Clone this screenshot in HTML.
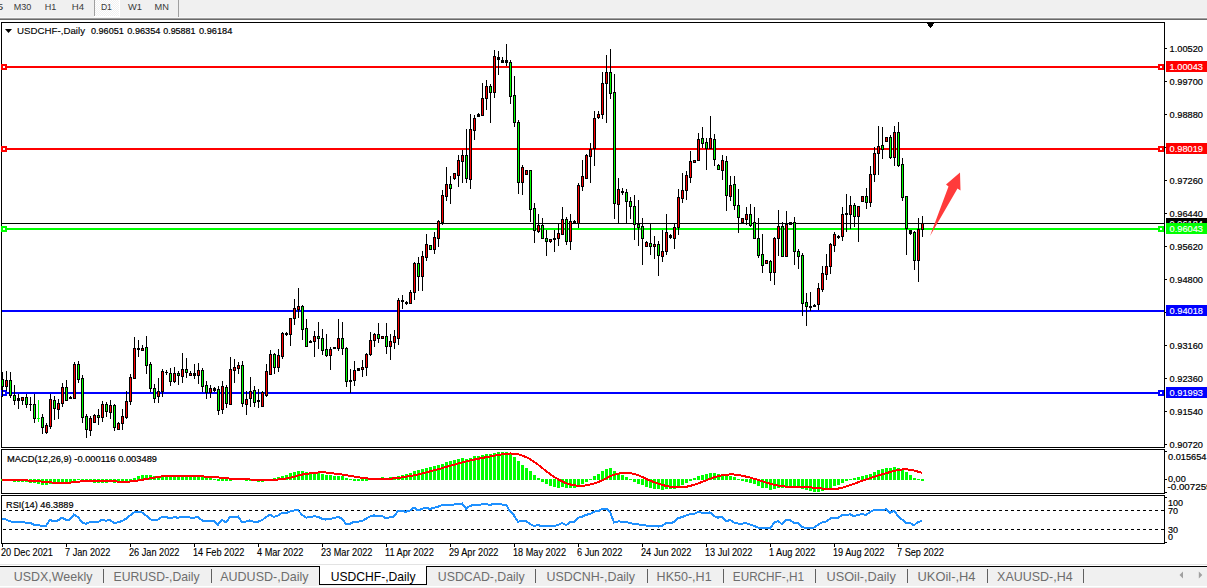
<!DOCTYPE html>
<html><head><meta charset="utf-8"><title>USDCHF-,Daily</title>
<style>
html,body{margin:0;padding:0;background:#fff;width:1207px;height:588px;overflow:hidden}
svg{display:block;font-family:"Liberation Sans",sans-serif}
text{shape-rendering:geometricPrecision}
</style></head><body>
<svg width="1207" height="588" viewBox="0 0 1207 588" shape-rendering="crispEdges">
<rect x="0" y="0" width="1207" height="17" fill="#f0f0f0"/>
<rect x="0" y="17" width="1207" height="1" fill="#f7f7f7"/>
<rect x="0" y="18" width="1207" height="1" fill="#a0a0a0"/>
<rect x="0" y="19" width="1207" height="1" fill="#696969"/>
<defs><pattern id="dith" width="2" height="2" patternUnits="userSpaceOnUse"><rect width="2" height="2" fill="#f0f0f0"/><rect width="1" height="1" fill="#fff"/><rect x="1" y="1" width="1" height="1" fill="#fff"/></pattern></defs>
<rect x="95" y="0" width="24" height="16" fill="url(#dith)"/>
<rect x="94" y="0" width="1" height="16" fill="#a0a0a0"/>
<rect x="94" y="16" width="26" height="1" fill="#fff"/>
<rect x="119" y="0" width="1" height="16" fill="#fff"/>
<rect x="178" y="0" width="1" height="17" fill="#a0a0a0"/>
<text x="-3.5" y="10" font-size="9.7" fill="#3a3a3a" textLength="6.8" lengthAdjust="spacingAndGlyphs">5</text>
<text x="13.7" y="10" font-size="9.7" fill="#3a3a3a" textLength="17.6" lengthAdjust="spacingAndGlyphs">M30</text>
<text x="44.7" y="10" font-size="9.7" fill="#3a3a3a" textLength="11.6" lengthAdjust="spacingAndGlyphs">H1</text>
<text x="71.7" y="10" font-size="9.7" fill="#3a3a3a" textLength="12.3" lengthAdjust="spacingAndGlyphs">H4</text>
<text x="100.9" y="10" font-size="9.7" fill="#3a3a3a" textLength="11.0" lengthAdjust="spacingAndGlyphs">D1</text>
<text x="128" y="10" font-size="9.7" fill="#3a3a3a" textLength="14" lengthAdjust="spacingAndGlyphs">W1</text>
<text x="154.6" y="10" font-size="9.7" fill="#3a3a3a" textLength="14.4" lengthAdjust="spacingAndGlyphs">MN</text>
<rect x="1" y="22" width="1164" height="1" fill="#000"/>
<rect x="1" y="447" width="1164" height="1" fill="#000"/>
<rect x="1" y="22" width="1" height="426" fill="#000"/>
<rect x="1164" y="22" width="1" height="426" fill="#000"/>
<rect x="1" y="449" width="1164" height="1" fill="#000"/>
<rect x="1" y="493" width="1164" height="1" fill="#000"/>
<rect x="1" y="449" width="1" height="45" fill="#000"/>
<rect x="1164" y="449" width="1" height="45" fill="#000"/>
<rect x="1" y="495" width="1164" height="1" fill="#000"/>
<rect x="1" y="543" width="1164" height="1" fill="#000"/>
<rect x="1" y="495" width="1" height="49" fill="#000"/>
<rect x="1164" y="495" width="1" height="49" fill="#000"/>
<rect x="1165" y="48" width="2" height="1" fill="#000"/>
<text x="1169.6" y="51.6" font-size="9.5" fill="#000" stroke="#000" stroke-width="0.2" textLength="33.4" lengthAdjust="spacingAndGlyphs">1.00520</text>
<rect x="1165" y="81" width="2" height="1" fill="#000"/>
<text x="1169.6" y="84.6" font-size="9.5" fill="#000" stroke="#000" stroke-width="0.2" textLength="33.4" lengthAdjust="spacingAndGlyphs">0.99700</text>
<rect x="1165" y="114" width="2" height="1" fill="#000"/>
<text x="1169.6" y="117.6" font-size="9.5" fill="#000" stroke="#000" stroke-width="0.2" textLength="33.4" lengthAdjust="spacingAndGlyphs">0.98880</text>
<rect x="1165" y="147" width="2" height="1" fill="#000"/>
<text x="1169.6" y="150.6" font-size="9.5" fill="#000" stroke="#000" stroke-width="0.2" textLength="33.4" lengthAdjust="spacingAndGlyphs">0.98060</text>
<rect x="1165" y="180" width="2" height="1" fill="#000"/>
<text x="1169.6" y="183.6" font-size="9.5" fill="#000" stroke="#000" stroke-width="0.2" textLength="33.4" lengthAdjust="spacingAndGlyphs">0.97260</text>
<rect x="1165" y="213" width="2" height="1" fill="#000"/>
<text x="1169.6" y="216.6" font-size="9.5" fill="#000" stroke="#000" stroke-width="0.2" textLength="33.4" lengthAdjust="spacingAndGlyphs">0.96440</text>
<rect x="1165" y="246" width="2" height="1" fill="#000"/>
<text x="1169.6" y="249.6" font-size="9.5" fill="#000" stroke="#000" stroke-width="0.2" textLength="33.4" lengthAdjust="spacingAndGlyphs">0.95620</text>
<rect x="1165" y="279" width="2" height="1" fill="#000"/>
<text x="1169.6" y="282.6" font-size="9.5" fill="#000" stroke="#000" stroke-width="0.2" textLength="33.4" lengthAdjust="spacingAndGlyphs">0.94800</text>
<rect x="1165" y="312" width="2" height="1" fill="#000"/>
<text x="1169.6" y="315.6" font-size="9.5" fill="#000" stroke="#000" stroke-width="0.2" textLength="33.4" lengthAdjust="spacingAndGlyphs">0.93980</text>
<rect x="1165" y="345" width="2" height="1" fill="#000"/>
<text x="1169.6" y="348.6" font-size="9.5" fill="#000" stroke="#000" stroke-width="0.2" textLength="33.4" lengthAdjust="spacingAndGlyphs">0.93160</text>
<rect x="1165" y="378" width="2" height="1" fill="#000"/>
<text x="1169.6" y="381.6" font-size="9.5" fill="#000" stroke="#000" stroke-width="0.2" textLength="33.4" lengthAdjust="spacingAndGlyphs">0.92360</text>
<rect x="1165" y="411" width="2" height="1" fill="#000"/>
<text x="1169.6" y="414.6" font-size="9.5" fill="#000" stroke="#000" stroke-width="0.2" textLength="33.4" lengthAdjust="spacingAndGlyphs">0.91540</text>
<rect x="1165" y="444" width="2" height="1" fill="#000"/>
<text x="1169.6" y="447.6" font-size="9.5" fill="#000" stroke="#000" stroke-width="0.2" textLength="33.4" lengthAdjust="spacingAndGlyphs">0.90720</text>
<rect x="2" y="66" width="1162" height="2" fill="#ff0000"/>
<rect x="1" y="64" width="6" height="6" fill="#ff0000"/>
<rect x="3" y="66" width="2" height="2" fill="#fff"/>
<rect x="1158" y="64" width="6" height="6" fill="#ff0000"/>
<rect x="1160" y="66" width="2" height="2" fill="#fff"/>
<rect x="2" y="148" width="1162" height="2" fill="#ff0000"/>
<rect x="1" y="146" width="6" height="6" fill="#ff0000"/>
<rect x="3" y="148" width="2" height="2" fill="#fff"/>
<rect x="1158" y="146" width="6" height="6" fill="#ff0000"/>
<rect x="1160" y="148" width="2" height="2" fill="#fff"/>
<rect x="2" y="228" width="1162" height="2" fill="#00ff00"/>
<rect x="1" y="226" width="6" height="6" fill="#00ff00"/>
<rect x="3" y="228" width="2" height="2" fill="#fff"/>
<rect x="1158" y="226" width="6" height="6" fill="#00ff00"/>
<rect x="1160" y="228" width="2" height="2" fill="#fff"/>
<rect x="2" y="310" width="1162" height="2" fill="#0000ff"/>
<rect x="2" y="392" width="1162" height="2" fill="#0000ff"/>
<rect x="1" y="390" width="6" height="6" fill="#0000ff"/>
<rect x="3" y="392" width="2" height="2" fill="#fff"/>
<rect x="1158" y="390" width="6" height="6" fill="#0000ff"/>
<rect x="1160" y="392" width="2" height="2" fill="#fff"/>
<rect x="2" y="223" width="1162" height="1" fill="#000"/>
<rect x="2" y="372" width="1" height="25" fill="#000"/>
<rect x="1" y="379" width="3" height="8" fill="#000"/>
<rect x="2" y="380" width="1" height="6" fill="#00ff00"/>
<rect x="6" y="371" width="1" height="20" fill="#000"/>
<rect x="5" y="380" width="3" height="7" fill="#000"/>
<rect x="6" y="381" width="1" height="5" fill="#ff0000"/>
<rect x="10" y="372" width="1" height="26" fill="#000"/>
<rect x="9" y="380" width="3" height="16" fill="#000"/>
<rect x="10" y="381" width="1" height="14" fill="#00ff00"/>
<rect x="14" y="385" width="1" height="20" fill="#000"/>
<rect x="13" y="395" width="3" height="6" fill="#000"/>
<rect x="14" y="396" width="1" height="4" fill="#00ff00"/>
<rect x="18" y="394" width="1" height="15" fill="#000"/>
<rect x="17" y="398" width="3" height="3" fill="#000"/>
<rect x="22" y="397" width="1" height="8" fill="#000"/>
<rect x="21" y="397" width="3" height="4" fill="#000"/>
<rect x="22" y="398" width="1" height="2" fill="#ff0000"/>
<rect x="26" y="394" width="1" height="14" fill="#000"/>
<rect x="25" y="397" width="3" height="8" fill="#000"/>
<rect x="26" y="398" width="1" height="6" fill="#00ff00"/>
<rect x="30" y="397" width="1" height="14" fill="#000"/>
<rect x="29" y="404" width="3" height="1" fill="#000"/>
<rect x="34" y="394" width="1" height="29" fill="#000"/>
<rect x="33" y="404" width="3" height="15" fill="#000"/>
<rect x="34" y="405" width="1" height="13" fill="#00ff00"/>
<rect x="38" y="400" width="1" height="22" fill="#00ff00"/>
<rect x="37" y="418" width="3" height="1" fill="#00ff00"/>
<rect x="42" y="414" width="1" height="20" fill="#000"/>
<rect x="41" y="417" width="3" height="11" fill="#000"/>
<rect x="42" y="418" width="1" height="9" fill="#00ff00"/>
<rect x="46" y="423" width="1" height="11" fill="#000"/>
<rect x="45" y="425" width="3" height="8" fill="#000"/>
<rect x="46" y="426" width="1" height="6" fill="#ff0000"/>
<rect x="50" y="394" width="1" height="35" fill="#000"/>
<rect x="49" y="399" width="3" height="28" fill="#000"/>
<rect x="50" y="400" width="1" height="26" fill="#ff0000"/>
<rect x="54" y="396" width="1" height="24" fill="#000"/>
<rect x="53" y="400" width="3" height="9" fill="#000"/>
<rect x="54" y="401" width="1" height="7" fill="#00ff00"/>
<rect x="58" y="399" width="1" height="20" fill="#000"/>
<rect x="57" y="403" width="3" height="7" fill="#000"/>
<rect x="58" y="404" width="1" height="5" fill="#ff0000"/>
<rect x="62" y="383" width="1" height="24" fill="#000"/>
<rect x="61" y="387" width="3" height="17" fill="#000"/>
<rect x="62" y="388" width="1" height="15" fill="#ff0000"/>
<rect x="66" y="380" width="1" height="21" fill="#000"/>
<rect x="65" y="387" width="3" height="14" fill="#000"/>
<rect x="66" y="388" width="1" height="12" fill="#00ff00"/>
<rect x="70" y="396" width="1" height="3" fill="#000"/>
<rect x="69" y="397" width="3" height="2" fill="#000"/>
<rect x="74" y="362" width="1" height="37" fill="#000"/>
<rect x="73" y="364" width="3" height="35" fill="#000"/>
<rect x="74" y="365" width="1" height="33" fill="#ff0000"/>
<rect x="78" y="361" width="1" height="22" fill="#000"/>
<rect x="77" y="364" width="3" height="16" fill="#000"/>
<rect x="78" y="365" width="1" height="14" fill="#00ff00"/>
<rect x="82" y="375" width="1" height="48" fill="#000"/>
<rect x="81" y="378" width="3" height="40" fill="#000"/>
<rect x="82" y="379" width="1" height="38" fill="#00ff00"/>
<rect x="86" y="414" width="1" height="24" fill="#000"/>
<rect x="85" y="416" width="3" height="14" fill="#000"/>
<rect x="86" y="417" width="1" height="12" fill="#00ff00"/>
<rect x="90" y="416" width="1" height="20" fill="#000"/>
<rect x="89" y="418" width="3" height="13" fill="#000"/>
<rect x="90" y="419" width="1" height="11" fill="#ff0000"/>
<rect x="94" y="414" width="1" height="9" fill="#000"/>
<rect x="93" y="415" width="3" height="8" fill="#000"/>
<rect x="94" y="416" width="1" height="6" fill="#ff0000"/>
<rect x="98" y="409" width="1" height="16" fill="#000"/>
<rect x="97" y="415" width="3" height="3" fill="#000"/>
<rect x="98" y="416" width="1" height="1" fill="#00ff00"/>
<rect x="102" y="401" width="1" height="21" fill="#000"/>
<rect x="101" y="404" width="3" height="14" fill="#000"/>
<rect x="102" y="405" width="1" height="12" fill="#ff0000"/>
<rect x="106" y="402" width="1" height="15" fill="#000"/>
<rect x="105" y="404" width="3" height="8" fill="#000"/>
<rect x="106" y="405" width="1" height="6" fill="#00ff00"/>
<rect x="110" y="400" width="1" height="19" fill="#000"/>
<rect x="109" y="405" width="3" height="8" fill="#000"/>
<rect x="110" y="406" width="1" height="6" fill="#ff0000"/>
<rect x="114" y="404" width="1" height="27" fill="#000"/>
<rect x="113" y="405" width="3" height="23" fill="#000"/>
<rect x="114" y="406" width="1" height="21" fill="#00ff00"/>
<rect x="118" y="422" width="1" height="8" fill="#000"/>
<rect x="117" y="423" width="3" height="7" fill="#000"/>
<rect x="118" y="424" width="1" height="5" fill="#ff0000"/>
<rect x="122" y="409" width="1" height="21" fill="#000"/>
<rect x="121" y="416" width="3" height="8" fill="#000"/>
<rect x="122" y="417" width="1" height="6" fill="#ff0000"/>
<rect x="126" y="391" width="1" height="28" fill="#000"/>
<rect x="125" y="401" width="3" height="17" fill="#000"/>
<rect x="126" y="402" width="1" height="15" fill="#ff0000"/>
<rect x="130" y="374" width="1" height="31" fill="#000"/>
<rect x="129" y="377" width="3" height="25" fill="#000"/>
<rect x="130" y="378" width="1" height="23" fill="#ff0000"/>
<rect x="134" y="337" width="1" height="42" fill="#000"/>
<rect x="133" y="348" width="3" height="31" fill="#000"/>
<rect x="134" y="349" width="1" height="29" fill="#ff0000"/>
<rect x="138" y="340" width="1" height="17" fill="#000"/>
<rect x="137" y="348" width="3" height="2" fill="#000"/>
<rect x="142" y="345" width="1" height="6" fill="#000"/>
<rect x="141" y="348" width="3" height="3" fill="#000"/>
<rect x="142" y="349" width="1" height="1" fill="#ff0000"/>
<rect x="146" y="336" width="1" height="38" fill="#000"/>
<rect x="145" y="347" width="3" height="19" fill="#000"/>
<rect x="146" y="348" width="1" height="17" fill="#00ff00"/>
<rect x="150" y="362" width="1" height="30" fill="#000"/>
<rect x="149" y="364" width="3" height="25" fill="#000"/>
<rect x="150" y="365" width="1" height="23" fill="#00ff00"/>
<rect x="154" y="384" width="1" height="19" fill="#000"/>
<rect x="153" y="388" width="3" height="11" fill="#000"/>
<rect x="154" y="389" width="1" height="9" fill="#00ff00"/>
<rect x="158" y="378" width="1" height="25" fill="#000"/>
<rect x="157" y="391" width="3" height="6" fill="#000"/>
<rect x="158" y="392" width="1" height="4" fill="#ff0000"/>
<rect x="162" y="369" width="1" height="28" fill="#000"/>
<rect x="161" y="371" width="3" height="21" fill="#000"/>
<rect x="162" y="372" width="1" height="19" fill="#ff0000"/>
<rect x="166" y="370" width="1" height="5" fill="#000"/>
<rect x="165" y="372" width="3" height="1" fill="#000"/>
<rect x="170" y="368" width="1" height="18" fill="#000"/>
<rect x="169" y="373" width="3" height="9" fill="#000"/>
<rect x="170" y="374" width="1" height="7" fill="#00ff00"/>
<rect x="174" y="367" width="1" height="16" fill="#000"/>
<rect x="173" y="373" width="3" height="9" fill="#000"/>
<rect x="174" y="374" width="1" height="7" fill="#ff0000"/>
<rect x="178" y="371" width="1" height="14" fill="#000"/>
<rect x="177" y="373" width="3" height="3" fill="#000"/>
<rect x="178" y="374" width="1" height="1" fill="#00ff00"/>
<rect x="182" y="353" width="1" height="30" fill="#000"/>
<rect x="181" y="369" width="3" height="8" fill="#000"/>
<rect x="182" y="370" width="1" height="6" fill="#ff0000"/>
<rect x="186" y="358" width="1" height="20" fill="#000"/>
<rect x="185" y="369" width="3" height="4" fill="#000"/>
<rect x="186" y="370" width="1" height="2" fill="#00ff00"/>
<rect x="190" y="371" width="1" height="5" fill="#000"/>
<rect x="189" y="373" width="3" height="3" fill="#000"/>
<rect x="190" y="374" width="1" height="1" fill="#ff0000"/>
<rect x="194" y="364" width="1" height="15" fill="#000"/>
<rect x="193" y="373" width="3" height="3" fill="#000"/>
<rect x="198" y="363" width="1" height="21" fill="#000"/>
<rect x="197" y="370" width="3" height="6" fill="#000"/>
<rect x="198" y="371" width="1" height="4" fill="#ff0000"/>
<rect x="202" y="368" width="1" height="24" fill="#000"/>
<rect x="201" y="370" width="3" height="17" fill="#000"/>
<rect x="202" y="371" width="1" height="15" fill="#00ff00"/>
<rect x="206" y="381" width="1" height="18" fill="#000"/>
<rect x="205" y="385" width="3" height="8" fill="#000"/>
<rect x="206" y="386" width="1" height="6" fill="#00ff00"/>
<rect x="210" y="385" width="1" height="13" fill="#000"/>
<rect x="209" y="388" width="3" height="5" fill="#000"/>
<rect x="210" y="389" width="1" height="3" fill="#ff0000"/>
<rect x="214" y="387" width="1" height="5" fill="#000"/>
<rect x="213" y="388" width="3" height="3" fill="#000"/>
<rect x="218" y="386" width="1" height="29" fill="#000"/>
<rect x="217" y="389" width="3" height="22" fill="#000"/>
<rect x="218" y="390" width="1" height="20" fill="#00ff00"/>
<rect x="222" y="381" width="1" height="33" fill="#000"/>
<rect x="221" y="386" width="3" height="24" fill="#000"/>
<rect x="222" y="387" width="1" height="22" fill="#ff0000"/>
<rect x="226" y="385" width="1" height="23" fill="#000"/>
<rect x="225" y="387" width="3" height="17" fill="#000"/>
<rect x="226" y="388" width="1" height="15" fill="#00ff00"/>
<rect x="230" y="357" width="1" height="48" fill="#000"/>
<rect x="229" y="369" width="3" height="36" fill="#000"/>
<rect x="230" y="370" width="1" height="34" fill="#ff0000"/>
<rect x="234" y="359" width="1" height="24" fill="#000"/>
<rect x="233" y="367" width="3" height="4" fill="#000"/>
<rect x="234" y="368" width="1" height="2" fill="#ff0000"/>
<rect x="238" y="362" width="1" height="12" fill="#000"/>
<rect x="237" y="365" width="3" height="4" fill="#000"/>
<rect x="238" y="366" width="1" height="2" fill="#ff0000"/>
<rect x="242" y="361" width="1" height="46" fill="#000"/>
<rect x="241" y="365" width="3" height="39" fill="#000"/>
<rect x="242" y="366" width="1" height="37" fill="#00ff00"/>
<rect x="246" y="391" width="1" height="24" fill="#000"/>
<rect x="245" y="399" width="3" height="6" fill="#000"/>
<rect x="246" y="400" width="1" height="4" fill="#ff0000"/>
<rect x="250" y="377" width="1" height="30" fill="#000"/>
<rect x="249" y="391" width="3" height="8" fill="#000"/>
<rect x="250" y="392" width="1" height="6" fill="#ff0000"/>
<rect x="254" y="386" width="1" height="21" fill="#000"/>
<rect x="253" y="390" width="3" height="13" fill="#000"/>
<rect x="254" y="391" width="1" height="11" fill="#00ff00"/>
<rect x="258" y="389" width="1" height="19" fill="#000"/>
<rect x="257" y="400" width="3" height="2" fill="#000"/>
<rect x="262" y="391" width="1" height="16" fill="#000"/>
<rect x="261" y="392" width="3" height="15" fill="#000"/>
<rect x="262" y="393" width="1" height="13" fill="#ff0000"/>
<rect x="266" y="364" width="1" height="33" fill="#000"/>
<rect x="265" y="371" width="3" height="25" fill="#000"/>
<rect x="266" y="372" width="1" height="23" fill="#ff0000"/>
<rect x="270" y="350" width="1" height="25" fill="#000"/>
<rect x="269" y="354" width="3" height="21" fill="#000"/>
<rect x="270" y="355" width="1" height="19" fill="#ff0000"/>
<rect x="274" y="353" width="1" height="21" fill="#000"/>
<rect x="273" y="354" width="3" height="14" fill="#000"/>
<rect x="274" y="355" width="1" height="12" fill="#00ff00"/>
<rect x="278" y="349" width="1" height="23" fill="#000"/>
<rect x="277" y="355" width="3" height="13" fill="#000"/>
<rect x="278" y="356" width="1" height="11" fill="#ff0000"/>
<rect x="282" y="332" width="1" height="27" fill="#000"/>
<rect x="281" y="333" width="3" height="24" fill="#000"/>
<rect x="282" y="334" width="1" height="22" fill="#ff0000"/>
<rect x="286" y="332" width="1" height="4" fill="#000"/>
<rect x="285" y="333" width="3" height="2" fill="#000"/>
<rect x="290" y="318" width="1" height="28" fill="#000"/>
<rect x="289" y="318" width="3" height="17" fill="#000"/>
<rect x="290" y="319" width="1" height="15" fill="#ff0000"/>
<rect x="294" y="299" width="1" height="26" fill="#000"/>
<rect x="293" y="308" width="3" height="11" fill="#000"/>
<rect x="294" y="309" width="1" height="9" fill="#ff0000"/>
<rect x="298" y="288" width="1" height="30" fill="#000"/>
<rect x="297" y="306" width="3" height="4" fill="#000"/>
<rect x="298" y="307" width="1" height="2" fill="#ff0000"/>
<rect x="302" y="305" width="1" height="35" fill="#000"/>
<rect x="301" y="306" width="3" height="24" fill="#000"/>
<rect x="302" y="307" width="1" height="22" fill="#00ff00"/>
<rect x="306" y="319" width="1" height="28" fill="#000"/>
<rect x="305" y="328" width="3" height="19" fill="#000"/>
<rect x="306" y="329" width="1" height="17" fill="#00ff00"/>
<rect x="310" y="340" width="1" height="3" fill="#000"/>
<rect x="309" y="341" width="3" height="2" fill="#000"/>
<rect x="314" y="331" width="1" height="26" fill="#000"/>
<rect x="313" y="336" width="3" height="6" fill="#000"/>
<rect x="314" y="337" width="1" height="4" fill="#ff0000"/>
<rect x="318" y="322" width="1" height="27" fill="#000"/>
<rect x="317" y="336" width="3" height="3" fill="#000"/>
<rect x="318" y="337" width="1" height="1" fill="#00ff00"/>
<rect x="322" y="329" width="1" height="26" fill="#000"/>
<rect x="321" y="338" width="3" height="13" fill="#000"/>
<rect x="322" y="339" width="1" height="11" fill="#00ff00"/>
<rect x="326" y="334" width="1" height="23" fill="#000"/>
<rect x="325" y="349" width="3" height="7" fill="#000"/>
<rect x="326" y="350" width="1" height="5" fill="#00ff00"/>
<rect x="330" y="347" width="1" height="23" fill="#000"/>
<rect x="329" y="349" width="3" height="7" fill="#000"/>
<rect x="330" y="350" width="1" height="5" fill="#ff0000"/>
<rect x="334" y="347" width="1" height="2" fill="#000"/>
<rect x="333" y="347" width="3" height="2" fill="#000"/>
<rect x="338" y="319" width="1" height="32" fill="#000"/>
<rect x="337" y="338" width="3" height="11" fill="#000"/>
<rect x="338" y="339" width="1" height="9" fill="#ff0000"/>
<rect x="342" y="322" width="1" height="33" fill="#000"/>
<rect x="341" y="338" width="3" height="11" fill="#000"/>
<rect x="342" y="339" width="1" height="9" fill="#00ff00"/>
<rect x="346" y="347" width="1" height="40" fill="#000"/>
<rect x="345" y="348" width="3" height="34" fill="#000"/>
<rect x="346" y="349" width="1" height="32" fill="#00ff00"/>
<rect x="350" y="369" width="1" height="24" fill="#000"/>
<rect x="349" y="380" width="3" height="2" fill="#000"/>
<rect x="354" y="361" width="1" height="25" fill="#000"/>
<rect x="353" y="370" width="3" height="11" fill="#000"/>
<rect x="354" y="371" width="1" height="9" fill="#ff0000"/>
<rect x="358" y="368" width="1" height="3" fill="#000"/>
<rect x="357" y="368" width="3" height="3" fill="#000"/>
<rect x="362" y="360" width="1" height="17" fill="#000"/>
<rect x="361" y="367" width="3" height="3" fill="#000"/>
<rect x="362" y="368" width="1" height="1" fill="#ff0000"/>
<rect x="366" y="353" width="1" height="23" fill="#000"/>
<rect x="365" y="354" width="3" height="14" fill="#000"/>
<rect x="366" y="355" width="1" height="12" fill="#ff0000"/>
<rect x="370" y="332" width="1" height="24" fill="#000"/>
<rect x="369" y="340" width="3" height="15" fill="#000"/>
<rect x="370" y="341" width="1" height="13" fill="#ff0000"/>
<rect x="374" y="333" width="1" height="14" fill="#000"/>
<rect x="373" y="334" width="3" height="7" fill="#000"/>
<rect x="374" y="335" width="1" height="5" fill="#ff0000"/>
<rect x="378" y="323" width="1" height="20" fill="#000"/>
<rect x="377" y="334" width="3" height="5" fill="#000"/>
<rect x="378" y="335" width="1" height="3" fill="#00ff00"/>
<rect x="382" y="336" width="1" height="3" fill="#000"/>
<rect x="381" y="336" width="3" height="3" fill="#000"/>
<rect x="382" y="337" width="1" height="1" fill="#ff0000"/>
<rect x="386" y="323" width="1" height="31" fill="#000"/>
<rect x="385" y="336" width="3" height="11" fill="#000"/>
<rect x="386" y="337" width="1" height="9" fill="#00ff00"/>
<rect x="390" y="334" width="1" height="26" fill="#000"/>
<rect x="389" y="341" width="3" height="6" fill="#000"/>
<rect x="390" y="342" width="1" height="4" fill="#ff0000"/>
<rect x="394" y="330" width="1" height="19" fill="#000"/>
<rect x="393" y="336" width="3" height="7" fill="#000"/>
<rect x="394" y="337" width="1" height="5" fill="#ff0000"/>
<rect x="398" y="298" width="1" height="47" fill="#000"/>
<rect x="397" y="300" width="3" height="39" fill="#000"/>
<rect x="398" y="301" width="1" height="37" fill="#ff0000"/>
<rect x="402" y="295" width="1" height="14" fill="#000"/>
<rect x="401" y="300" width="3" height="2" fill="#000"/>
<rect x="406" y="301" width="1" height="4" fill="#000"/>
<rect x="405" y="302" width="3" height="2" fill="#000"/>
<rect x="410" y="290" width="1" height="14" fill="#000"/>
<rect x="409" y="292" width="3" height="12" fill="#000"/>
<rect x="410" y="293" width="1" height="10" fill="#ff0000"/>
<rect x="414" y="262" width="1" height="38" fill="#000"/>
<rect x="413" y="263" width="3" height="30" fill="#000"/>
<rect x="414" y="264" width="1" height="28" fill="#ff0000"/>
<rect x="418" y="257" width="1" height="34" fill="#000"/>
<rect x="417" y="263" width="3" height="14" fill="#000"/>
<rect x="418" y="264" width="1" height="12" fill="#00ff00"/>
<rect x="422" y="251" width="1" height="40" fill="#000"/>
<rect x="421" y="256" width="3" height="21" fill="#000"/>
<rect x="422" y="257" width="1" height="19" fill="#ff0000"/>
<rect x="426" y="234" width="1" height="27" fill="#000"/>
<rect x="425" y="244" width="3" height="14" fill="#000"/>
<rect x="426" y="245" width="1" height="12" fill="#ff0000"/>
<rect x="430" y="245" width="1" height="5" fill="#000"/>
<rect x="429" y="245" width="3" height="5" fill="#000"/>
<rect x="430" y="246" width="1" height="3" fill="#00ff00"/>
<rect x="434" y="232" width="1" height="22" fill="#000"/>
<rect x="433" y="237" width="3" height="13" fill="#000"/>
<rect x="434" y="238" width="1" height="11" fill="#ff0000"/>
<rect x="438" y="220" width="1" height="27" fill="#000"/>
<rect x="437" y="221" width="3" height="18" fill="#000"/>
<rect x="438" y="222" width="1" height="16" fill="#ff0000"/>
<rect x="442" y="190" width="1" height="35" fill="#000"/>
<rect x="441" y="195" width="3" height="28" fill="#000"/>
<rect x="442" y="196" width="1" height="26" fill="#ff0000"/>
<rect x="446" y="167" width="1" height="34" fill="#000"/>
<rect x="445" y="184" width="3" height="13" fill="#000"/>
<rect x="446" y="185" width="1" height="11" fill="#ff0000"/>
<rect x="450" y="176" width="1" height="28" fill="#000"/>
<rect x="449" y="184" width="3" height="5" fill="#000"/>
<rect x="450" y="185" width="1" height="3" fill="#00ff00"/>
<rect x="454" y="173" width="1" height="7" fill="#000"/>
<rect x="453" y="173" width="3" height="6" fill="#000"/>
<rect x="454" y="174" width="1" height="4" fill="#ff0000"/>
<rect x="458" y="155" width="1" height="32" fill="#000"/>
<rect x="457" y="160" width="3" height="16" fill="#000"/>
<rect x="458" y="161" width="1" height="14" fill="#ff0000"/>
<rect x="462" y="150" width="1" height="33" fill="#000"/>
<rect x="461" y="155" width="3" height="7" fill="#000"/>
<rect x="462" y="156" width="1" height="5" fill="#ff0000"/>
<rect x="466" y="129" width="1" height="54" fill="#000"/>
<rect x="465" y="155" width="3" height="24" fill="#000"/>
<rect x="466" y="156" width="1" height="22" fill="#00ff00"/>
<rect x="470" y="114" width="1" height="75" fill="#000"/>
<rect x="469" y="129" width="3" height="51" fill="#000"/>
<rect x="470" y="130" width="1" height="49" fill="#ff0000"/>
<rect x="474" y="115" width="1" height="25" fill="#000"/>
<rect x="473" y="118" width="3" height="13" fill="#000"/>
<rect x="474" y="119" width="1" height="11" fill="#ff0000"/>
<rect x="478" y="113" width="1" height="4" fill="#000"/>
<rect x="477" y="114" width="3" height="3" fill="#000"/>
<rect x="482" y="83" width="1" height="33" fill="#000"/>
<rect x="481" y="98" width="3" height="18" fill="#000"/>
<rect x="482" y="99" width="1" height="16" fill="#ff0000"/>
<rect x="486" y="80" width="1" height="30" fill="#000"/>
<rect x="485" y="86" width="3" height="13" fill="#000"/>
<rect x="486" y="87" width="1" height="11" fill="#ff0000"/>
<rect x="490" y="84" width="1" height="39" fill="#000"/>
<rect x="489" y="86" width="3" height="7" fill="#000"/>
<rect x="490" y="87" width="1" height="5" fill="#00ff00"/>
<rect x="494" y="50" width="1" height="48" fill="#000"/>
<rect x="493" y="56" width="3" height="37" fill="#000"/>
<rect x="494" y="57" width="1" height="35" fill="#ff0000"/>
<rect x="498" y="51" width="1" height="24" fill="#000"/>
<rect x="497" y="57" width="3" height="3" fill="#000"/>
<rect x="502" y="57" width="1" height="6" fill="#000"/>
<rect x="501" y="60" width="3" height="3" fill="#000"/>
<rect x="506" y="44" width="1" height="22" fill="#000"/>
<rect x="505" y="60" width="3" height="3" fill="#000"/>
<rect x="510" y="60" width="1" height="44" fill="#000"/>
<rect x="509" y="62" width="3" height="35" fill="#000"/>
<rect x="510" y="63" width="1" height="33" fill="#00ff00"/>
<rect x="514" y="76" width="1" height="51" fill="#000"/>
<rect x="513" y="95" width="3" height="28" fill="#000"/>
<rect x="514" y="96" width="1" height="26" fill="#00ff00"/>
<rect x="518" y="120" width="1" height="74" fill="#000"/>
<rect x="517" y="122" width="3" height="61" fill="#000"/>
<rect x="518" y="123" width="1" height="59" fill="#00ff00"/>
<rect x="522" y="165" width="1" height="30" fill="#000"/>
<rect x="521" y="167" width="3" height="16" fill="#000"/>
<rect x="522" y="168" width="1" height="14" fill="#ff0000"/>
<rect x="526" y="170" width="1" height="5" fill="#000"/>
<rect x="525" y="170" width="3" height="5" fill="#000"/>
<rect x="526" y="171" width="1" height="3" fill="#ff0000"/>
<rect x="530" y="170" width="1" height="52" fill="#000"/>
<rect x="529" y="170" width="3" height="40" fill="#000"/>
<rect x="530" y="171" width="1" height="38" fill="#00ff00"/>
<rect x="534" y="203" width="1" height="40" fill="#000"/>
<rect x="533" y="208" width="3" height="23" fill="#000"/>
<rect x="534" y="209" width="1" height="21" fill="#00ff00"/>
<rect x="538" y="214" width="1" height="19" fill="#000"/>
<rect x="537" y="225" width="3" height="7" fill="#000"/>
<rect x="538" y="226" width="1" height="5" fill="#ff0000"/>
<rect x="542" y="218" width="1" height="21" fill="#000"/>
<rect x="541" y="225" width="3" height="14" fill="#000"/>
<rect x="542" y="226" width="1" height="12" fill="#00ff00"/>
<rect x="546" y="230" width="1" height="26" fill="#000"/>
<rect x="545" y="238" width="3" height="4" fill="#000"/>
<rect x="546" y="239" width="1" height="2" fill="#00ff00"/>
<rect x="550" y="239" width="1" height="4" fill="#000"/>
<rect x="549" y="239" width="3" height="3" fill="#000"/>
<rect x="550" y="240" width="1" height="1" fill="#ff0000"/>
<rect x="554" y="230" width="1" height="22" fill="#000"/>
<rect x="553" y="238" width="3" height="2" fill="#000"/>
<rect x="558" y="224" width="1" height="22" fill="#000"/>
<rect x="557" y="233" width="3" height="6" fill="#000"/>
<rect x="558" y="234" width="1" height="4" fill="#ff0000"/>
<rect x="562" y="207" width="1" height="28" fill="#000"/>
<rect x="561" y="219" width="3" height="16" fill="#000"/>
<rect x="562" y="220" width="1" height="14" fill="#ff0000"/>
<rect x="566" y="217" width="1" height="28" fill="#000"/>
<rect x="565" y="219" width="3" height="23" fill="#000"/>
<rect x="566" y="220" width="1" height="21" fill="#00ff00"/>
<rect x="570" y="214" width="1" height="36" fill="#000"/>
<rect x="569" y="221" width="3" height="21" fill="#000"/>
<rect x="570" y="222" width="1" height="19" fill="#ff0000"/>
<rect x="574" y="220" width="1" height="3" fill="#000"/>
<rect x="573" y="221" width="3" height="2" fill="#000"/>
<rect x="578" y="183" width="1" height="45" fill="#000"/>
<rect x="577" y="185" width="3" height="39" fill="#000"/>
<rect x="578" y="186" width="1" height="37" fill="#ff0000"/>
<rect x="582" y="160" width="1" height="31" fill="#000"/>
<rect x="581" y="176" width="3" height="11" fill="#000"/>
<rect x="582" y="177" width="1" height="9" fill="#ff0000"/>
<rect x="586" y="154" width="1" height="25" fill="#000"/>
<rect x="585" y="155" width="3" height="24" fill="#000"/>
<rect x="586" y="156" width="1" height="22" fill="#ff0000"/>
<rect x="590" y="143" width="1" height="40" fill="#000"/>
<rect x="589" y="149" width="3" height="8" fill="#000"/>
<rect x="590" y="150" width="1" height="6" fill="#ff0000"/>
<rect x="594" y="111" width="1" height="55" fill="#000"/>
<rect x="593" y="118" width="3" height="31" fill="#000"/>
<rect x="594" y="119" width="1" height="29" fill="#ff0000"/>
<rect x="598" y="111" width="1" height="8" fill="#000"/>
<rect x="597" y="114" width="3" height="4" fill="#000"/>
<rect x="598" y="115" width="1" height="2" fill="#ff0000"/>
<rect x="602" y="72" width="1" height="47" fill="#000"/>
<rect x="601" y="83" width="3" height="32" fill="#000"/>
<rect x="602" y="84" width="1" height="30" fill="#ff0000"/>
<rect x="606" y="55" width="1" height="68" fill="#000"/>
<rect x="605" y="72" width="3" height="12" fill="#000"/>
<rect x="606" y="73" width="1" height="10" fill="#ff0000"/>
<rect x="610" y="49" width="1" height="50" fill="#000"/>
<rect x="609" y="72" width="3" height="22" fill="#000"/>
<rect x="610" y="73" width="1" height="20" fill="#00ff00"/>
<rect x="614" y="74" width="1" height="145" fill="#000"/>
<rect x="613" y="92" width="3" height="112" fill="#000"/>
<rect x="614" y="93" width="1" height="110" fill="#00ff00"/>
<rect x="618" y="178" width="1" height="46" fill="#000"/>
<rect x="617" y="189" width="3" height="16" fill="#000"/>
<rect x="618" y="190" width="1" height="14" fill="#ff0000"/>
<rect x="622" y="188" width="1" height="7" fill="#000"/>
<rect x="621" y="191" width="3" height="2" fill="#000"/>
<rect x="626" y="189" width="1" height="35" fill="#000"/>
<rect x="625" y="192" width="3" height="10" fill="#000"/>
<rect x="626" y="193" width="1" height="8" fill="#00ff00"/>
<rect x="630" y="197" width="1" height="22" fill="#000"/>
<rect x="629" y="201" width="3" height="6" fill="#000"/>
<rect x="630" y="202" width="1" height="4" fill="#00ff00"/>
<rect x="634" y="195" width="1" height="45" fill="#000"/>
<rect x="633" y="206" width="3" height="19" fill="#000"/>
<rect x="634" y="207" width="1" height="17" fill="#00ff00"/>
<rect x="638" y="200" width="1" height="46" fill="#000"/>
<rect x="637" y="224" width="3" height="4" fill="#000"/>
<rect x="638" y="225" width="1" height="2" fill="#00ff00"/>
<rect x="642" y="218" width="1" height="47" fill="#000"/>
<rect x="641" y="226" width="3" height="13" fill="#000"/>
<rect x="642" y="227" width="1" height="11" fill="#00ff00"/>
<rect x="646" y="241" width="1" height="6" fill="#000"/>
<rect x="645" y="242" width="3" height="5" fill="#000"/>
<rect x="646" y="243" width="1" height="3" fill="#ff0000"/>
<rect x="650" y="223" width="1" height="32" fill="#000"/>
<rect x="649" y="243" width="3" height="4" fill="#000"/>
<rect x="650" y="244" width="1" height="2" fill="#00ff00"/>
<rect x="654" y="236" width="1" height="23" fill="#000"/>
<rect x="653" y="244" width="3" height="3" fill="#000"/>
<rect x="654" y="245" width="1" height="1" fill="#ff0000"/>
<rect x="658" y="241" width="1" height="35" fill="#000"/>
<rect x="657" y="244" width="3" height="12" fill="#000"/>
<rect x="658" y="245" width="1" height="10" fill="#00ff00"/>
<rect x="662" y="230" width="1" height="32" fill="#000"/>
<rect x="661" y="251" width="3" height="6" fill="#000"/>
<rect x="662" y="252" width="1" height="4" fill="#ff0000"/>
<rect x="666" y="214" width="1" height="41" fill="#000"/>
<rect x="665" y="232" width="3" height="20" fill="#000"/>
<rect x="666" y="233" width="1" height="18" fill="#ff0000"/>
<rect x="670" y="234" width="1" height="5" fill="#000"/>
<rect x="669" y="235" width="3" height="3" fill="#000"/>
<rect x="674" y="224" width="1" height="25" fill="#000"/>
<rect x="673" y="227" width="3" height="12" fill="#000"/>
<rect x="674" y="228" width="1" height="10" fill="#ff0000"/>
<rect x="678" y="189" width="1" height="46" fill="#000"/>
<rect x="677" y="197" width="3" height="31" fill="#000"/>
<rect x="678" y="198" width="1" height="29" fill="#ff0000"/>
<rect x="682" y="173" width="1" height="30" fill="#000"/>
<rect x="681" y="190" width="3" height="9" fill="#000"/>
<rect x="682" y="191" width="1" height="7" fill="#ff0000"/>
<rect x="686" y="171" width="1" height="29" fill="#000"/>
<rect x="685" y="175" width="3" height="16" fill="#000"/>
<rect x="686" y="176" width="1" height="14" fill="#ff0000"/>
<rect x="690" y="151" width="1" height="32" fill="#000"/>
<rect x="689" y="161" width="3" height="17" fill="#000"/>
<rect x="690" y="162" width="1" height="15" fill="#ff0000"/>
<rect x="694" y="160" width="1" height="3" fill="#000"/>
<rect x="693" y="160" width="3" height="3" fill="#000"/>
<rect x="694" y="161" width="1" height="1" fill="#ff0000"/>
<rect x="698" y="133" width="1" height="28" fill="#000"/>
<rect x="697" y="139" width="3" height="22" fill="#000"/>
<rect x="698" y="140" width="1" height="20" fill="#ff0000"/>
<rect x="702" y="127" width="1" height="21" fill="#000"/>
<rect x="701" y="138" width="3" height="6" fill="#000"/>
<rect x="702" y="139" width="1" height="4" fill="#00ff00"/>
<rect x="706" y="138" width="1" height="32" fill="#000"/>
<rect x="705" y="142" width="3" height="7" fill="#000"/>
<rect x="706" y="143" width="1" height="5" fill="#00ff00"/>
<rect x="710" y="116" width="1" height="33" fill="#000"/>
<rect x="709" y="138" width="3" height="11" fill="#000"/>
<rect x="710" y="139" width="1" height="9" fill="#ff0000"/>
<rect x="714" y="134" width="1" height="32" fill="#000"/>
<rect x="713" y="139" width="3" height="21" fill="#000"/>
<rect x="714" y="140" width="1" height="19" fill="#00ff00"/>
<rect x="718" y="164" width="1" height="6" fill="#000"/>
<rect x="717" y="165" width="3" height="5" fill="#000"/>
<rect x="718" y="166" width="1" height="3" fill="#00ff00"/>
<rect x="722" y="155" width="1" height="25" fill="#000"/>
<rect x="721" y="160" width="3" height="11" fill="#000"/>
<rect x="722" y="161" width="1" height="9" fill="#ff0000"/>
<rect x="726" y="156" width="1" height="55" fill="#000"/>
<rect x="725" y="161" width="3" height="35" fill="#000"/>
<rect x="726" y="162" width="1" height="33" fill="#00ff00"/>
<rect x="730" y="176" width="1" height="25" fill="#000"/>
<rect x="729" y="185" width="3" height="12" fill="#000"/>
<rect x="730" y="186" width="1" height="10" fill="#ff0000"/>
<rect x="734" y="176" width="1" height="34" fill="#000"/>
<rect x="733" y="184" width="3" height="22" fill="#000"/>
<rect x="734" y="185" width="1" height="20" fill="#00ff00"/>
<rect x="738" y="189" width="1" height="44" fill="#000"/>
<rect x="737" y="205" width="3" height="13" fill="#000"/>
<rect x="738" y="206" width="1" height="11" fill="#00ff00"/>
<rect x="742" y="218" width="1" height="5" fill="#000"/>
<rect x="741" y="218" width="3" height="5" fill="#000"/>
<rect x="742" y="219" width="1" height="3" fill="#ff0000"/>
<rect x="746" y="207" width="1" height="18" fill="#000"/>
<rect x="745" y="214" width="3" height="6" fill="#000"/>
<rect x="746" y="215" width="1" height="4" fill="#ff0000"/>
<rect x="750" y="204" width="1" height="23" fill="#000"/>
<rect x="749" y="214" width="3" height="12" fill="#000"/>
<rect x="750" y="215" width="1" height="10" fill="#00ff00"/>
<rect x="754" y="207" width="1" height="32" fill="#000"/>
<rect x="753" y="222" width="3" height="17" fill="#000"/>
<rect x="754" y="223" width="1" height="15" fill="#00ff00"/>
<rect x="758" y="218" width="1" height="40" fill="#000"/>
<rect x="757" y="238" width="3" height="18" fill="#000"/>
<rect x="758" y="239" width="1" height="16" fill="#00ff00"/>
<rect x="762" y="234" width="1" height="39" fill="#000"/>
<rect x="761" y="254" width="3" height="12" fill="#000"/>
<rect x="762" y="255" width="1" height="10" fill="#00ff00"/>
<rect x="766" y="260" width="1" height="4" fill="#000"/>
<rect x="765" y="260" width="3" height="4" fill="#000"/>
<rect x="766" y="261" width="1" height="2" fill="#ff0000"/>
<rect x="770" y="260" width="1" height="21" fill="#000"/>
<rect x="769" y="261" width="3" height="12" fill="#000"/>
<rect x="770" y="262" width="1" height="10" fill="#00ff00"/>
<rect x="774" y="237" width="1" height="48" fill="#000"/>
<rect x="773" y="238" width="3" height="35" fill="#000"/>
<rect x="774" y="239" width="1" height="33" fill="#ff0000"/>
<rect x="778" y="210" width="1" height="46" fill="#000"/>
<rect x="777" y="226" width="3" height="13" fill="#000"/>
<rect x="778" y="227" width="1" height="11" fill="#ff0000"/>
<rect x="782" y="222" width="1" height="35" fill="#000"/>
<rect x="781" y="226" width="3" height="31" fill="#000"/>
<rect x="782" y="227" width="1" height="29" fill="#00ff00"/>
<rect x="786" y="211" width="1" height="46" fill="#000"/>
<rect x="785" y="224" width="3" height="33" fill="#000"/>
<rect x="786" y="225" width="1" height="31" fill="#ff0000"/>
<rect x="790" y="222" width="1" height="3" fill="#000"/>
<rect x="789" y="222" width="3" height="3" fill="#000"/>
<rect x="794" y="217" width="1" height="48" fill="#000"/>
<rect x="793" y="222" width="3" height="30" fill="#000"/>
<rect x="794" y="223" width="1" height="28" fill="#00ff00"/>
<rect x="798" y="249" width="1" height="20" fill="#000"/>
<rect x="797" y="251" width="3" height="6" fill="#000"/>
<rect x="798" y="252" width="1" height="4" fill="#00ff00"/>
<rect x="802" y="253" width="1" height="63" fill="#000"/>
<rect x="801" y="255" width="3" height="49" fill="#000"/>
<rect x="802" y="256" width="1" height="47" fill="#00ff00"/>
<rect x="806" y="293" width="1" height="33" fill="#000"/>
<rect x="805" y="302" width="3" height="5" fill="#000"/>
<rect x="806" y="303" width="1" height="3" fill="#00ff00"/>
<rect x="810" y="292" width="1" height="19" fill="#000"/>
<rect x="809" y="306" width="3" height="2" fill="#000"/>
<rect x="814" y="304" width="1" height="3" fill="#000"/>
<rect x="813" y="305" width="3" height="2" fill="#000"/>
<rect x="818" y="283" width="1" height="27" fill="#000"/>
<rect x="817" y="288" width="3" height="17" fill="#000"/>
<rect x="818" y="289" width="1" height="15" fill="#ff0000"/>
<rect x="822" y="266" width="1" height="26" fill="#000"/>
<rect x="821" y="273" width="3" height="17" fill="#000"/>
<rect x="822" y="274" width="1" height="15" fill="#ff0000"/>
<rect x="826" y="254" width="1" height="26" fill="#000"/>
<rect x="825" y="266" width="3" height="9" fill="#000"/>
<rect x="826" y="267" width="1" height="7" fill="#ff0000"/>
<rect x="830" y="243" width="1" height="31" fill="#000"/>
<rect x="829" y="244" width="3" height="23" fill="#000"/>
<rect x="830" y="245" width="1" height="21" fill="#ff0000"/>
<rect x="834" y="232" width="1" height="20" fill="#000"/>
<rect x="833" y="234" width="3" height="12" fill="#000"/>
<rect x="834" y="235" width="1" height="10" fill="#ff0000"/>
<rect x="838" y="235" width="1" height="4" fill="#000"/>
<rect x="837" y="236" width="3" height="2" fill="#000"/>
<rect x="842" y="207" width="1" height="34" fill="#000"/>
<rect x="841" y="214" width="3" height="23" fill="#000"/>
<rect x="842" y="215" width="1" height="21" fill="#ff0000"/>
<rect x="846" y="194" width="1" height="38" fill="#000"/>
<rect x="845" y="213" width="3" height="2" fill="#000"/>
<rect x="850" y="196" width="1" height="33" fill="#000"/>
<rect x="849" y="205" width="3" height="10" fill="#000"/>
<rect x="850" y="206" width="1" height="8" fill="#ff0000"/>
<rect x="854" y="203" width="1" height="24" fill="#000"/>
<rect x="853" y="205" width="3" height="12" fill="#000"/>
<rect x="854" y="206" width="1" height="10" fill="#00ff00"/>
<rect x="858" y="206" width="1" height="36" fill="#000"/>
<rect x="857" y="206" width="3" height="11" fill="#000"/>
<rect x="858" y="207" width="1" height="9" fill="#ff0000"/>
<rect x="862" y="196" width="1" height="6" fill="#000"/>
<rect x="861" y="196" width="3" height="6" fill="#000"/>
<rect x="862" y="197" width="1" height="4" fill="#ff0000"/>
<rect x="866" y="188" width="1" height="21" fill="#000"/>
<rect x="865" y="196" width="3" height="7" fill="#000"/>
<rect x="866" y="197" width="1" height="5" fill="#00ff00"/>
<rect x="870" y="166" width="1" height="41" fill="#000"/>
<rect x="869" y="174" width="3" height="29" fill="#000"/>
<rect x="870" y="175" width="1" height="27" fill="#ff0000"/>
<rect x="874" y="147" width="1" height="35" fill="#000"/>
<rect x="873" y="153" width="3" height="22" fill="#000"/>
<rect x="874" y="154" width="1" height="20" fill="#ff0000"/>
<rect x="878" y="126" width="1" height="49" fill="#000"/>
<rect x="877" y="146" width="3" height="8" fill="#000"/>
<rect x="878" y="147" width="1" height="6" fill="#ff0000"/>
<rect x="882" y="127" width="1" height="32" fill="#000"/>
<rect x="881" y="145" width="3" height="5" fill="#000"/>
<rect x="882" y="146" width="1" height="3" fill="#00ff00"/>
<rect x="886" y="137" width="1" height="5" fill="#000"/>
<rect x="885" y="137" width="3" height="5" fill="#000"/>
<rect x="886" y="138" width="1" height="3" fill="#ff0000"/>
<rect x="890" y="135" width="1" height="24" fill="#000"/>
<rect x="889" y="137" width="3" height="21" fill="#000"/>
<rect x="890" y="138" width="1" height="19" fill="#00ff00"/>
<rect x="894" y="126" width="1" height="40" fill="#000"/>
<rect x="893" y="132" width="3" height="26" fill="#000"/>
<rect x="894" y="133" width="1" height="24" fill="#ff0000"/>
<rect x="898" y="122" width="1" height="45" fill="#000"/>
<rect x="897" y="132" width="3" height="34" fill="#000"/>
<rect x="898" y="133" width="1" height="32" fill="#00ff00"/>
<rect x="902" y="158" width="1" height="43" fill="#000"/>
<rect x="901" y="164" width="3" height="34" fill="#000"/>
<rect x="902" y="165" width="1" height="32" fill="#00ff00"/>
<rect x="906" y="196" width="1" height="59" fill="#000"/>
<rect x="905" y="196" width="3" height="33" fill="#000"/>
<rect x="906" y="197" width="1" height="31" fill="#00ff00"/>
<rect x="910" y="230" width="1" height="5" fill="#000"/>
<rect x="909" y="230" width="3" height="4" fill="#000"/>
<rect x="914" y="231" width="1" height="39" fill="#000"/>
<rect x="913" y="232" width="3" height="29" fill="#000"/>
<rect x="914" y="233" width="1" height="27" fill="#00ff00"/>
<rect x="918" y="218" width="1" height="64" fill="#000"/>
<rect x="917" y="229" width="3" height="32" fill="#000"/>
<rect x="918" y="230" width="1" height="30" fill="#ff0000"/>
<rect x="922" y="216" width="1" height="21" fill="#000"/>
<rect x="921" y="223" width="3" height="7" fill="#000"/>
<rect x="922" y="224" width="1" height="5" fill="#ff0000"/>
<polygon points="925.5,22 935.5,22 930.5,28" fill="#000"/>
<polygon points="930,236 948.5,186.5 946,184.5 960,172.5 960.5,190.5 957.5,188.5" fill="#ff3b3b" shape-rendering="geometricPrecision"/>
<rect x="1166" y="218" width="41" height="11" fill="#000"/>
<text x="1169.6" y="226.6" font-size="9.5" fill="#fff" stroke="#fff" stroke-width="0.15" textLength="33.4" lengthAdjust="spacingAndGlyphs">0.96184</text>
<rect x="1166" y="61" width="41" height="11" fill="#ff0000"/>
<text x="1169.6" y="69.6" font-size="9.5" fill="#fff" stroke="#fff" stroke-width="0.15" textLength="33.4" lengthAdjust="spacingAndGlyphs">1.00043</text>
<rect x="1166" y="143" width="41" height="11" fill="#ff0000"/>
<text x="1169.6" y="151.6" font-size="9.5" fill="#fff" stroke="#fff" stroke-width="0.15" textLength="33.4" lengthAdjust="spacingAndGlyphs">0.98019</text>
<rect x="1166" y="223" width="41" height="11" fill="#00ff00"/>
<text x="1169.6" y="231.6" font-size="9.5" fill="#fff" stroke="#fff" stroke-width="0.15" textLength="33.4" lengthAdjust="spacingAndGlyphs">0.96043</text>
<rect x="1166" y="305" width="41" height="11" fill="#0000ff"/>
<text x="1169.6" y="313.6" font-size="9.5" fill="#fff" stroke="#fff" stroke-width="0.15" textLength="33.4" lengthAdjust="spacingAndGlyphs">0.94018</text>
<rect x="1166" y="387" width="41" height="11" fill="#0000ff"/>
<text x="1169.6" y="395.6" font-size="9.5" fill="#fff" stroke="#fff" stroke-width="0.15" textLength="33.4" lengthAdjust="spacingAndGlyphs">0.91993</text>
<polygon points="5,29 12,29 8.5,33" fill="#000" shape-rendering="geometricPrecision"/>
<text x="17" y="34" font-size="9.6" fill="#000" stroke="#000" stroke-width="0.1" textLength="68" lengthAdjust="spacingAndGlyphs">USDCHF-,Daily</text>
<text x="91.0" y="34" font-size="9.6" fill="#000" stroke="#000" stroke-width="0.2" textLength="32.8" lengthAdjust="spacingAndGlyphs">0.96051</text>
<text x="127.3" y="34" font-size="9.6" fill="#000" stroke="#000" stroke-width="0.2" textLength="33.0" lengthAdjust="spacingAndGlyphs">0.96354</text>
<text x="163.2" y="34" font-size="9.6" fill="#000" stroke="#000" stroke-width="0.2" textLength="32.3" lengthAdjust="spacingAndGlyphs">0.95881</text>
<text x="199.0" y="34" font-size="9.6" fill="#000" stroke="#000" stroke-width="0.2" textLength="33.3" lengthAdjust="spacingAndGlyphs">0.96184</text>
<rect x="1" y="479" width="3" height="2" fill="#00ff00"/>
<rect x="5" y="479" width="3" height="2" fill="#00ff00"/>
<rect x="9" y="479" width="3" height="2" fill="#00ff00"/>
<rect x="13" y="479" width="3" height="3" fill="#00ff00"/>
<rect x="17" y="479" width="3" height="3" fill="#00ff00"/>
<rect x="21" y="479" width="3" height="3" fill="#00ff00"/>
<rect x="25" y="479" width="3" height="3" fill="#00ff00"/>
<rect x="29" y="479" width="3" height="4" fill="#00ff00"/>
<rect x="33" y="479" width="3" height="4" fill="#00ff00"/>
<rect x="37" y="479" width="3" height="5" fill="#00ff00"/>
<rect x="41" y="479" width="3" height="6" fill="#00ff00"/>
<rect x="45" y="479" width="3" height="6" fill="#00ff00"/>
<rect x="49" y="479" width="3" height="5" fill="#00ff00"/>
<rect x="53" y="479" width="3" height="5" fill="#00ff00"/>
<rect x="57" y="479" width="3" height="5" fill="#00ff00"/>
<rect x="61" y="479" width="3" height="4" fill="#00ff00"/>
<rect x="65" y="479" width="3" height="3" fill="#00ff00"/>
<rect x="69" y="479" width="3" height="3" fill="#00ff00"/>
<rect x="73" y="479" width="3" height="2" fill="#00ff00"/>
<rect x="77" y="479" width="3" height="1" fill="#00ff00"/>
<rect x="81" y="479" width="3" height="2" fill="#00ff00"/>
<rect x="85" y="479" width="3" height="3" fill="#00ff00"/>
<rect x="89" y="479" width="3" height="3" fill="#00ff00"/>
<rect x="93" y="479" width="3" height="4" fill="#00ff00"/>
<rect x="97" y="479" width="3" height="4" fill="#00ff00"/>
<rect x="101" y="479" width="3" height="4" fill="#00ff00"/>
<rect x="105" y="479" width="3" height="4" fill="#00ff00"/>
<rect x="109" y="479" width="3" height="3" fill="#00ff00"/>
<rect x="113" y="479" width="3" height="4" fill="#00ff00"/>
<rect x="117" y="479" width="3" height="4" fill="#00ff00"/>
<rect x="121" y="479" width="3" height="4" fill="#00ff00"/>
<rect x="125" y="479" width="3" height="3" fill="#00ff00"/>
<rect x="129" y="479" width="3" height="2" fill="#00ff00"/>
<rect x="133" y="478" width="3" height="2" fill="#00ff00"/>
<rect x="137" y="476" width="3" height="4" fill="#00ff00"/>
<rect x="141" y="475" width="3" height="5" fill="#00ff00"/>
<rect x="145" y="475" width="3" height="5" fill="#00ff00"/>
<rect x="149" y="475" width="3" height="5" fill="#00ff00"/>
<rect x="153" y="476" width="3" height="4" fill="#00ff00"/>
<rect x="157" y="477" width="3" height="3" fill="#00ff00"/>
<rect x="161" y="476" width="3" height="4" fill="#00ff00"/>
<rect x="165" y="476" width="3" height="4" fill="#00ff00"/>
<rect x="169" y="476" width="3" height="4" fill="#00ff00"/>
<rect x="173" y="476" width="3" height="4" fill="#00ff00"/>
<rect x="177" y="476" width="3" height="4" fill="#00ff00"/>
<rect x="181" y="476" width="3" height="4" fill="#00ff00"/>
<rect x="185" y="476" width="3" height="4" fill="#00ff00"/>
<rect x="189" y="476" width="3" height="4" fill="#00ff00"/>
<rect x="193" y="476" width="3" height="4" fill="#00ff00"/>
<rect x="197" y="476" width="3" height="4" fill="#00ff00"/>
<rect x="201" y="477" width="3" height="3" fill="#00ff00"/>
<rect x="205" y="478" width="3" height="2" fill="#00ff00"/>
<rect x="209" y="478" width="3" height="2" fill="#00ff00"/>
<rect x="213" y="479" width="3" height="1" fill="#00ff00"/>
<rect x="217" y="479" width="3" height="2" fill="#00ff00"/>
<rect x="221" y="479" width="3" height="2" fill="#00ff00"/>
<rect x="225" y="479" width="3" height="2" fill="#00ff00"/>
<rect x="229" y="479" width="3" height="2" fill="#00ff00"/>
<rect x="233" y="479" width="3" height="1" fill="#00ff00"/>
<rect x="237" y="478" width="3" height="2" fill="#00ff00"/>
<rect x="241" y="479" width="3" height="1" fill="#00ff00"/>
<rect x="245" y="479" width="3" height="2" fill="#00ff00"/>
<rect x="249" y="479" width="3" height="2" fill="#00ff00"/>
<rect x="253" y="479" width="3" height="2" fill="#00ff00"/>
<rect x="257" y="479" width="3" height="3" fill="#00ff00"/>
<rect x="261" y="479" width="3" height="3" fill="#00ff00"/>
<rect x="265" y="479" width="3" height="2" fill="#00ff00"/>
<rect x="269" y="479" width="3" height="1" fill="#00ff00"/>
<rect x="273" y="478" width="3" height="2" fill="#00ff00"/>
<rect x="277" y="477" width="3" height="3" fill="#00ff00"/>
<rect x="281" y="476" width="3" height="4" fill="#00ff00"/>
<rect x="285" y="475" width="3" height="5" fill="#00ff00"/>
<rect x="289" y="473" width="3" height="7" fill="#00ff00"/>
<rect x="293" y="472" width="3" height="8" fill="#00ff00"/>
<rect x="297" y="471" width="3" height="9" fill="#00ff00"/>
<rect x="301" y="471" width="3" height="9" fill="#00ff00"/>
<rect x="305" y="472" width="3" height="8" fill="#00ff00"/>
<rect x="309" y="472" width="3" height="8" fill="#00ff00"/>
<rect x="313" y="473" width="3" height="7" fill="#00ff00"/>
<rect x="317" y="473" width="3" height="7" fill="#00ff00"/>
<rect x="321" y="474" width="3" height="6" fill="#00ff00"/>
<rect x="325" y="475" width="3" height="5" fill="#00ff00"/>
<rect x="329" y="475" width="3" height="5" fill="#00ff00"/>
<rect x="333" y="476" width="3" height="4" fill="#00ff00"/>
<rect x="337" y="476" width="3" height="4" fill="#00ff00"/>
<rect x="341" y="476" width="3" height="4" fill="#00ff00"/>
<rect x="345" y="478" width="3" height="2" fill="#00ff00"/>
<rect x="349" y="479" width="3" height="1" fill="#00ff00"/>
<rect x="353" y="479" width="3" height="2" fill="#00ff00"/>
<rect x="357" y="479" width="3" height="2" fill="#00ff00"/>
<rect x="361" y="479" width="3" height="2" fill="#00ff00"/>
<rect x="365" y="479" width="3" height="2" fill="#00ff00"/>
<rect x="369" y="479" width="3" height="1" fill="#00ff00"/>
<rect x="373" y="478" width="3" height="2" fill="#00ff00"/>
<rect x="377" y="478" width="3" height="2" fill="#00ff00"/>
<rect x="381" y="477" width="3" height="3" fill="#00ff00"/>
<rect x="385" y="478" width="3" height="2" fill="#00ff00"/>
<rect x="389" y="477" width="3" height="3" fill="#00ff00"/>
<rect x="393" y="477" width="3" height="3" fill="#00ff00"/>
<rect x="397" y="476" width="3" height="4" fill="#00ff00"/>
<rect x="401" y="475" width="3" height="5" fill="#00ff00"/>
<rect x="405" y="474" width="3" height="6" fill="#00ff00"/>
<rect x="409" y="473" width="3" height="7" fill="#00ff00"/>
<rect x="413" y="471" width="3" height="9" fill="#00ff00"/>
<rect x="417" y="470" width="3" height="10" fill="#00ff00"/>
<rect x="421" y="469" width="3" height="11" fill="#00ff00"/>
<rect x="425" y="468" width="3" height="12" fill="#00ff00"/>
<rect x="429" y="467" width="3" height="13" fill="#00ff00"/>
<rect x="433" y="466" width="3" height="14" fill="#00ff00"/>
<rect x="437" y="465" width="3" height="15" fill="#00ff00"/>
<rect x="441" y="464" width="3" height="16" fill="#00ff00"/>
<rect x="445" y="462" width="3" height="18" fill="#00ff00"/>
<rect x="449" y="461" width="3" height="19" fill="#00ff00"/>
<rect x="453" y="460" width="3" height="20" fill="#00ff00"/>
<rect x="457" y="459" width="3" height="21" fill="#00ff00"/>
<rect x="461" y="458" width="3" height="22" fill="#00ff00"/>
<rect x="465" y="459" width="3" height="21" fill="#00ff00"/>
<rect x="469" y="458" width="3" height="22" fill="#00ff00"/>
<rect x="473" y="456" width="3" height="24" fill="#00ff00"/>
<rect x="477" y="456" width="3" height="24" fill="#00ff00"/>
<rect x="481" y="455" width="3" height="25" fill="#00ff00"/>
<rect x="485" y="454" width="3" height="26" fill="#00ff00"/>
<rect x="489" y="454" width="3" height="26" fill="#00ff00"/>
<rect x="493" y="453" width="3" height="27" fill="#00ff00"/>
<rect x="497" y="452" width="3" height="28" fill="#00ff00"/>
<rect x="501" y="452" width="3" height="28" fill="#00ff00"/>
<rect x="505" y="452" width="3" height="28" fill="#00ff00"/>
<rect x="509" y="454" width="3" height="26" fill="#00ff00"/>
<rect x="513" y="457" width="3" height="23" fill="#00ff00"/>
<rect x="517" y="461" width="3" height="19" fill="#00ff00"/>
<rect x="521" y="465" width="3" height="15" fill="#00ff00"/>
<rect x="525" y="468" width="3" height="12" fill="#00ff00"/>
<rect x="529" y="471" width="3" height="9" fill="#00ff00"/>
<rect x="533" y="475" width="3" height="5" fill="#00ff00"/>
<rect x="537" y="478" width="3" height="2" fill="#00ff00"/>
<rect x="541" y="479" width="3" height="3" fill="#00ff00"/>
<rect x="545" y="479" width="3" height="5" fill="#00ff00"/>
<rect x="549" y="479" width="3" height="7" fill="#00ff00"/>
<rect x="553" y="479" width="3" height="8" fill="#00ff00"/>
<rect x="557" y="479" width="3" height="9" fill="#00ff00"/>
<rect x="561" y="479" width="3" height="8" fill="#00ff00"/>
<rect x="565" y="479" width="3" height="9" fill="#00ff00"/>
<rect x="569" y="479" width="3" height="9" fill="#00ff00"/>
<rect x="573" y="479" width="3" height="9" fill="#00ff00"/>
<rect x="577" y="479" width="3" height="7" fill="#00ff00"/>
<rect x="581" y="479" width="3" height="5" fill="#00ff00"/>
<rect x="585" y="479" width="3" height="3" fill="#00ff00"/>
<rect x="589" y="479" width="3" height="1" fill="#00ff00"/>
<rect x="593" y="476" width="3" height="4" fill="#00ff00"/>
<rect x="597" y="474" width="3" height="6" fill="#00ff00"/>
<rect x="601" y="471" width="3" height="9" fill="#00ff00"/>
<rect x="605" y="469" width="3" height="11" fill="#00ff00"/>
<rect x="609" y="468" width="3" height="12" fill="#00ff00"/>
<rect x="613" y="471" width="3" height="9" fill="#00ff00"/>
<rect x="617" y="473" width="3" height="7" fill="#00ff00"/>
<rect x="621" y="475" width="3" height="5" fill="#00ff00"/>
<rect x="625" y="477" width="3" height="3" fill="#00ff00"/>
<rect x="629" y="479" width="3" height="1" fill="#00ff00"/>
<rect x="633" y="479" width="3" height="3" fill="#00ff00"/>
<rect x="637" y="479" width="3" height="5" fill="#00ff00"/>
<rect x="641" y="479" width="3" height="6" fill="#00ff00"/>
<rect x="645" y="479" width="3" height="8" fill="#00ff00"/>
<rect x="649" y="479" width="3" height="9" fill="#00ff00"/>
<rect x="653" y="479" width="3" height="10" fill="#00ff00"/>
<rect x="657" y="479" width="3" height="10" fill="#00ff00"/>
<rect x="661" y="479" width="3" height="11" fill="#00ff00"/>
<rect x="665" y="479" width="3" height="10" fill="#00ff00"/>
<rect x="669" y="479" width="3" height="10" fill="#00ff00"/>
<rect x="673" y="479" width="3" height="10" fill="#00ff00"/>
<rect x="677" y="479" width="3" height="8" fill="#00ff00"/>
<rect x="681" y="479" width="3" height="6" fill="#00ff00"/>
<rect x="685" y="479" width="3" height="4" fill="#00ff00"/>
<rect x="689" y="479" width="3" height="2" fill="#00ff00"/>
<rect x="693" y="478" width="3" height="2" fill="#00ff00"/>
<rect x="697" y="476" width="3" height="4" fill="#00ff00"/>
<rect x="701" y="475" width="3" height="5" fill="#00ff00"/>
<rect x="705" y="474" width="3" height="6" fill="#00ff00"/>
<rect x="709" y="473" width="3" height="7" fill="#00ff00"/>
<rect x="713" y="473" width="3" height="7" fill="#00ff00"/>
<rect x="717" y="474" width="3" height="6" fill="#00ff00"/>
<rect x="721" y="474" width="3" height="6" fill="#00ff00"/>
<rect x="725" y="475" width="3" height="5" fill="#00ff00"/>
<rect x="729" y="476" width="3" height="4" fill="#00ff00"/>
<rect x="733" y="477" width="3" height="3" fill="#00ff00"/>
<rect x="737" y="479" width="3" height="1" fill="#00ff00"/>
<rect x="741" y="479" width="3" height="2" fill="#00ff00"/>
<rect x="745" y="479" width="3" height="3" fill="#00ff00"/>
<rect x="749" y="479" width="3" height="4" fill="#00ff00"/>
<rect x="753" y="479" width="3" height="5" fill="#00ff00"/>
<rect x="757" y="479" width="3" height="7" fill="#00ff00"/>
<rect x="761" y="479" width="3" height="9" fill="#00ff00"/>
<rect x="765" y="479" width="3" height="9" fill="#00ff00"/>
<rect x="769" y="479" width="3" height="11" fill="#00ff00"/>
<rect x="773" y="479" width="3" height="10" fill="#00ff00"/>
<rect x="777" y="479" width="3" height="9" fill="#00ff00"/>
<rect x="781" y="479" width="3" height="9" fill="#00ff00"/>
<rect x="785" y="479" width="3" height="8" fill="#00ff00"/>
<rect x="789" y="479" width="3" height="7" fill="#00ff00"/>
<rect x="793" y="479" width="3" height="8" fill="#00ff00"/>
<rect x="797" y="479" width="3" height="8" fill="#00ff00"/>
<rect x="801" y="479" width="3" height="10" fill="#00ff00"/>
<rect x="805" y="479" width="3" height="11" fill="#00ff00"/>
<rect x="809" y="479" width="3" height="12" fill="#00ff00"/>
<rect x="813" y="479" width="3" height="13" fill="#00ff00"/>
<rect x="817" y="479" width="3" height="13" fill="#00ff00"/>
<rect x="821" y="479" width="3" height="12" fill="#00ff00"/>
<rect x="825" y="479" width="3" height="11" fill="#00ff00"/>
<rect x="829" y="479" width="3" height="9" fill="#00ff00"/>
<rect x="833" y="479" width="3" height="7" fill="#00ff00"/>
<rect x="837" y="479" width="3" height="6" fill="#00ff00"/>
<rect x="841" y="479" width="3" height="4" fill="#00ff00"/>
<rect x="845" y="479" width="3" height="2" fill="#00ff00"/>
<rect x="849" y="479" width="3" height="1" fill="#00ff00"/>
<rect x="853" y="478" width="3" height="2" fill="#00ff00"/>
<rect x="857" y="477" width="3" height="3" fill="#00ff00"/>
<rect x="861" y="476" width="3" height="4" fill="#00ff00"/>
<rect x="865" y="475" width="3" height="5" fill="#00ff00"/>
<rect x="869" y="474" width="3" height="6" fill="#00ff00"/>
<rect x="873" y="472" width="3" height="8" fill="#00ff00"/>
<rect x="877" y="470" width="3" height="10" fill="#00ff00"/>
<rect x="881" y="469" width="3" height="11" fill="#00ff00"/>
<rect x="885" y="468" width="3" height="12" fill="#00ff00"/>
<rect x="889" y="468" width="3" height="12" fill="#00ff00"/>
<rect x="893" y="467" width="3" height="13" fill="#00ff00"/>
<rect x="897" y="468" width="3" height="12" fill="#00ff00"/>
<rect x="901" y="470" width="3" height="10" fill="#00ff00"/>
<rect x="905" y="472" width="3" height="8" fill="#00ff00"/>
<rect x="909" y="475" width="3" height="5" fill="#00ff00"/>
<rect x="913" y="478" width="3" height="2" fill="#00ff00"/>
<rect x="917" y="479" width="3" height="1" fill="#00ff00"/>
<rect x="921" y="479" width="3" height="2" fill="#00ff00"/>
<polyline points="2,480.0 6,480.0 10,480.0 14,480.1 18,480.2 22,480.3 26,480.4 30,480.6 34,480.9 38,481.2 42,481.6 46,482.1 50,482.4 54,482.6 58,482.8 62,482.8 66,482.8 70,482.6 74,482.3 78,481.7 82,481.3 86,481.0 90,480.8 94,480.7 98,480.7 102,480.7 106,480.8 110,481.0 114,481.3 118,481.6 122,481.7 126,481.7 130,481.5 134,481.1 138,480.5 142,479.8 146,479.0 150,478.3 154,477.6 158,477.0 162,476.4 166,476.0 170,475.8 174,475.8 178,476.0 182,476.2 186,476.3 190,476.3 194,476.3 198,476.3 202,476.4 206,476.6 210,476.8 214,477.0 218,477.4 222,477.8 226,478.3 230,478.6 234,478.9 238,479.0 242,479.2 246,479.4 250,479.5 254,479.6 258,479.7 262,479.7 266,479.8 270,479.7 274,479.7 278,479.5 282,479.1 286,478.5 290,477.7 294,476.7 298,475.6 302,474.6 306,473.9 310,473.3 314,472.8 318,472.5 322,472.4 326,472.5 330,472.9 334,473.5 338,474.0 342,474.5 346,475.1 350,475.8 354,476.5 358,477.2 362,477.8 366,478.3 370,478.7 374,479.0 378,479.2 382,479.1 386,479.0 390,478.7 394,478.4 398,477.9 402,477.3 406,476.7 410,476.0 414,475.3 418,474.5 422,473.6 426,472.5 430,471.4 434,470.3 438,469.3 442,468.2 446,467.0 450,465.8 454,464.7 458,463.6 462,462.5 466,461.6 470,460.6 474,459.6 478,458.8 482,458.0 486,457.2 490,456.5 494,455.7 498,455.1 502,454.3 506,453.7 510,453.5 514,453.6 518,454.3 522,455.5 526,457.1 530,459.1 534,461.7 538,464.6 542,467.8 546,471.0 550,474.1 554,476.8 558,479.2 562,481.3 566,483.1 570,484.4 574,485.3 578,485.8 582,485.8 586,485.4 590,484.6 594,483.5 598,482.2 602,480.4 606,478.4 610,476.3 614,474.8 618,473.7 622,473.1 626,472.9 630,473.2 634,473.9 638,475.1 642,476.8 646,478.8 650,480.5 654,482.1 658,483.5 662,484.9 666,485.9 670,486.7 674,487.3 678,487.5 682,487.3 686,486.8 690,486.0 694,484.8 698,483.4 702,481.9 706,480.4 710,478.8 714,477.3 718,476.2 722,475.2 726,474.7 730,474.4 734,474.5 738,475.0 742,475.7 746,476.6 750,477.6 754,478.7 758,479.9 762,481.2 766,482.4 770,483.7 774,484.7 778,485.5 782,486.2 786,486.6 790,486.9 794,486.9 798,486.9 802,486.9 806,487.0 810,487.3 814,487.7 818,488.1 822,488.5 826,488.9 830,489.1 834,489.0 838,488.6 842,487.7 846,486.6 850,485.2 854,483.8 858,482.3 862,480.9 866,479.5 870,478.3 874,476.9 878,475.6 882,474.4 886,473.2 890,472.1 894,471.0 898,470.1 902,469.5 906,469.3 910,469.7 914,470.5 918,471.6 922,472.9" fill="none" stroke="#ff0000" stroke-width="2" shape-rendering="crispEdges"/>
<text x="7" y="462" font-size="9.6" fill="#000" stroke="#000" stroke-width="0.2" textLength="150" lengthAdjust="spacingAndGlyphs">MACD(12,26,9) -0.000116 0.003489</text>
<rect x="1165" y="451" width="2" height="1" fill="#000"/>
<rect x="1165" y="479" width="2" height="1" fill="#000"/>
<rect x="1165" y="492" width="2" height="1" fill="#000"/>
<text x="1168" y="460" font-size="9.5" fill="#000" stroke="#000" stroke-width="0.2" textLength="38.5" lengthAdjust="spacingAndGlyphs">0.015654</text>
<text x="1168" y="482" font-size="9.5" fill="#000" stroke="#000" stroke-width="0.2" textLength="17.8" lengthAdjust="spacingAndGlyphs">0,00</text>
<text x="1167.5" y="490" font-size="9.5" fill="#000" stroke="#000" stroke-width="0.2" textLength="44" lengthAdjust="spacingAndGlyphs">-0.007259</text>
<rect x="3" y="510" width="3" height="1" fill="#000"/>
<rect x="9" y="510" width="3" height="1" fill="#000"/>
<rect x="15" y="510" width="3" height="1" fill="#000"/>
<rect x="21" y="510" width="3" height="1" fill="#000"/>
<rect x="27" y="510" width="3" height="1" fill="#000"/>
<rect x="33" y="510" width="3" height="1" fill="#000"/>
<rect x="39" y="510" width="3" height="1" fill="#000"/>
<rect x="45" y="510" width="3" height="1" fill="#000"/>
<rect x="51" y="510" width="3" height="1" fill="#000"/>
<rect x="57" y="510" width="3" height="1" fill="#000"/>
<rect x="63" y="510" width="3" height="1" fill="#000"/>
<rect x="69" y="510" width="3" height="1" fill="#000"/>
<rect x="75" y="510" width="3" height="1" fill="#000"/>
<rect x="81" y="510" width="3" height="1" fill="#000"/>
<rect x="87" y="510" width="3" height="1" fill="#000"/>
<rect x="93" y="510" width="3" height="1" fill="#000"/>
<rect x="99" y="510" width="3" height="1" fill="#000"/>
<rect x="105" y="510" width="3" height="1" fill="#000"/>
<rect x="111" y="510" width="3" height="1" fill="#000"/>
<rect x="117" y="510" width="3" height="1" fill="#000"/>
<rect x="123" y="510" width="3" height="1" fill="#000"/>
<rect x="129" y="510" width="3" height="1" fill="#000"/>
<rect x="135" y="510" width="3" height="1" fill="#000"/>
<rect x="141" y="510" width="3" height="1" fill="#000"/>
<rect x="147" y="510" width="3" height="1" fill="#000"/>
<rect x="153" y="510" width="3" height="1" fill="#000"/>
<rect x="159" y="510" width="3" height="1" fill="#000"/>
<rect x="165" y="510" width="3" height="1" fill="#000"/>
<rect x="171" y="510" width="3" height="1" fill="#000"/>
<rect x="177" y="510" width="3" height="1" fill="#000"/>
<rect x="183" y="510" width="3" height="1" fill="#000"/>
<rect x="189" y="510" width="3" height="1" fill="#000"/>
<rect x="195" y="510" width="3" height="1" fill="#000"/>
<rect x="201" y="510" width="3" height="1" fill="#000"/>
<rect x="207" y="510" width="3" height="1" fill="#000"/>
<rect x="213" y="510" width="3" height="1" fill="#000"/>
<rect x="219" y="510" width="3" height="1" fill="#000"/>
<rect x="225" y="510" width="3" height="1" fill="#000"/>
<rect x="231" y="510" width="3" height="1" fill="#000"/>
<rect x="237" y="510" width="3" height="1" fill="#000"/>
<rect x="243" y="510" width="3" height="1" fill="#000"/>
<rect x="249" y="510" width="3" height="1" fill="#000"/>
<rect x="255" y="510" width="3" height="1" fill="#000"/>
<rect x="261" y="510" width="3" height="1" fill="#000"/>
<rect x="267" y="510" width="3" height="1" fill="#000"/>
<rect x="273" y="510" width="3" height="1" fill="#000"/>
<rect x="279" y="510" width="3" height="1" fill="#000"/>
<rect x="285" y="510" width="3" height="1" fill="#000"/>
<rect x="291" y="510" width="3" height="1" fill="#000"/>
<rect x="297" y="510" width="3" height="1" fill="#000"/>
<rect x="303" y="510" width="3" height="1" fill="#000"/>
<rect x="309" y="510" width="3" height="1" fill="#000"/>
<rect x="315" y="510" width="3" height="1" fill="#000"/>
<rect x="321" y="510" width="3" height="1" fill="#000"/>
<rect x="327" y="510" width="3" height="1" fill="#000"/>
<rect x="333" y="510" width="3" height="1" fill="#000"/>
<rect x="339" y="510" width="3" height="1" fill="#000"/>
<rect x="345" y="510" width="3" height="1" fill="#000"/>
<rect x="351" y="510" width="3" height="1" fill="#000"/>
<rect x="357" y="510" width="3" height="1" fill="#000"/>
<rect x="363" y="510" width="3" height="1" fill="#000"/>
<rect x="369" y="510" width="3" height="1" fill="#000"/>
<rect x="375" y="510" width="3" height="1" fill="#000"/>
<rect x="381" y="510" width="3" height="1" fill="#000"/>
<rect x="387" y="510" width="3" height="1" fill="#000"/>
<rect x="393" y="510" width="3" height="1" fill="#000"/>
<rect x="399" y="510" width="3" height="1" fill="#000"/>
<rect x="405" y="510" width="3" height="1" fill="#000"/>
<rect x="411" y="510" width="3" height="1" fill="#000"/>
<rect x="417" y="510" width="3" height="1" fill="#000"/>
<rect x="423" y="510" width="3" height="1" fill="#000"/>
<rect x="429" y="510" width="3" height="1" fill="#000"/>
<rect x="435" y="510" width="3" height="1" fill="#000"/>
<rect x="441" y="510" width="3" height="1" fill="#000"/>
<rect x="447" y="510" width="3" height="1" fill="#000"/>
<rect x="453" y="510" width="3" height="1" fill="#000"/>
<rect x="459" y="510" width="3" height="1" fill="#000"/>
<rect x="465" y="510" width="3" height="1" fill="#000"/>
<rect x="471" y="510" width="3" height="1" fill="#000"/>
<rect x="477" y="510" width="3" height="1" fill="#000"/>
<rect x="483" y="510" width="3" height="1" fill="#000"/>
<rect x="489" y="510" width="3" height="1" fill="#000"/>
<rect x="495" y="510" width="3" height="1" fill="#000"/>
<rect x="501" y="510" width="3" height="1" fill="#000"/>
<rect x="507" y="510" width="3" height="1" fill="#000"/>
<rect x="513" y="510" width="3" height="1" fill="#000"/>
<rect x="519" y="510" width="3" height="1" fill="#000"/>
<rect x="525" y="510" width="3" height="1" fill="#000"/>
<rect x="531" y="510" width="3" height="1" fill="#000"/>
<rect x="537" y="510" width="3" height="1" fill="#000"/>
<rect x="543" y="510" width="3" height="1" fill="#000"/>
<rect x="549" y="510" width="3" height="1" fill="#000"/>
<rect x="555" y="510" width="3" height="1" fill="#000"/>
<rect x="561" y="510" width="3" height="1" fill="#000"/>
<rect x="567" y="510" width="3" height="1" fill="#000"/>
<rect x="573" y="510" width="3" height="1" fill="#000"/>
<rect x="579" y="510" width="3" height="1" fill="#000"/>
<rect x="585" y="510" width="3" height="1" fill="#000"/>
<rect x="591" y="510" width="3" height="1" fill="#000"/>
<rect x="597" y="510" width="3" height="1" fill="#000"/>
<rect x="603" y="510" width="3" height="1" fill="#000"/>
<rect x="609" y="510" width="3" height="1" fill="#000"/>
<rect x="615" y="510" width="3" height="1" fill="#000"/>
<rect x="621" y="510" width="3" height="1" fill="#000"/>
<rect x="627" y="510" width="3" height="1" fill="#000"/>
<rect x="633" y="510" width="3" height="1" fill="#000"/>
<rect x="639" y="510" width="3" height="1" fill="#000"/>
<rect x="645" y="510" width="3" height="1" fill="#000"/>
<rect x="651" y="510" width="3" height="1" fill="#000"/>
<rect x="657" y="510" width="3" height="1" fill="#000"/>
<rect x="663" y="510" width="3" height="1" fill="#000"/>
<rect x="669" y="510" width="3" height="1" fill="#000"/>
<rect x="675" y="510" width="3" height="1" fill="#000"/>
<rect x="681" y="510" width="3" height="1" fill="#000"/>
<rect x="687" y="510" width="3" height="1" fill="#000"/>
<rect x="693" y="510" width="3" height="1" fill="#000"/>
<rect x="699" y="510" width="3" height="1" fill="#000"/>
<rect x="705" y="510" width="3" height="1" fill="#000"/>
<rect x="711" y="510" width="3" height="1" fill="#000"/>
<rect x="717" y="510" width="3" height="1" fill="#000"/>
<rect x="723" y="510" width="3" height="1" fill="#000"/>
<rect x="729" y="510" width="3" height="1" fill="#000"/>
<rect x="735" y="510" width="3" height="1" fill="#000"/>
<rect x="741" y="510" width="3" height="1" fill="#000"/>
<rect x="747" y="510" width="3" height="1" fill="#000"/>
<rect x="753" y="510" width="3" height="1" fill="#000"/>
<rect x="759" y="510" width="3" height="1" fill="#000"/>
<rect x="765" y="510" width="3" height="1" fill="#000"/>
<rect x="771" y="510" width="3" height="1" fill="#000"/>
<rect x="777" y="510" width="3" height="1" fill="#000"/>
<rect x="783" y="510" width="3" height="1" fill="#000"/>
<rect x="789" y="510" width="3" height="1" fill="#000"/>
<rect x="795" y="510" width="3" height="1" fill="#000"/>
<rect x="801" y="510" width="3" height="1" fill="#000"/>
<rect x="807" y="510" width="3" height="1" fill="#000"/>
<rect x="813" y="510" width="3" height="1" fill="#000"/>
<rect x="819" y="510" width="3" height="1" fill="#000"/>
<rect x="825" y="510" width="3" height="1" fill="#000"/>
<rect x="831" y="510" width="3" height="1" fill="#000"/>
<rect x="837" y="510" width="3" height="1" fill="#000"/>
<rect x="843" y="510" width="3" height="1" fill="#000"/>
<rect x="849" y="510" width="3" height="1" fill="#000"/>
<rect x="855" y="510" width="3" height="1" fill="#000"/>
<rect x="861" y="510" width="3" height="1" fill="#000"/>
<rect x="867" y="510" width="3" height="1" fill="#000"/>
<rect x="873" y="510" width="3" height="1" fill="#000"/>
<rect x="879" y="510" width="3" height="1" fill="#000"/>
<rect x="885" y="510" width="3" height="1" fill="#000"/>
<rect x="891" y="510" width="3" height="1" fill="#000"/>
<rect x="897" y="510" width="3" height="1" fill="#000"/>
<rect x="903" y="510" width="3" height="1" fill="#000"/>
<rect x="909" y="510" width="3" height="1" fill="#000"/>
<rect x="915" y="510" width="3" height="1" fill="#000"/>
<rect x="921" y="510" width="3" height="1" fill="#000"/>
<rect x="927" y="510" width="3" height="1" fill="#000"/>
<rect x="933" y="510" width="3" height="1" fill="#000"/>
<rect x="939" y="510" width="3" height="1" fill="#000"/>
<rect x="945" y="510" width="3" height="1" fill="#000"/>
<rect x="951" y="510" width="3" height="1" fill="#000"/>
<rect x="957" y="510" width="3" height="1" fill="#000"/>
<rect x="963" y="510" width="3" height="1" fill="#000"/>
<rect x="969" y="510" width="3" height="1" fill="#000"/>
<rect x="975" y="510" width="3" height="1" fill="#000"/>
<rect x="981" y="510" width="3" height="1" fill="#000"/>
<rect x="987" y="510" width="3" height="1" fill="#000"/>
<rect x="993" y="510" width="3" height="1" fill="#000"/>
<rect x="999" y="510" width="3" height="1" fill="#000"/>
<rect x="1005" y="510" width="3" height="1" fill="#000"/>
<rect x="1011" y="510" width="3" height="1" fill="#000"/>
<rect x="1017" y="510" width="3" height="1" fill="#000"/>
<rect x="1023" y="510" width="3" height="1" fill="#000"/>
<rect x="1029" y="510" width="3" height="1" fill="#000"/>
<rect x="1035" y="510" width="3" height="1" fill="#000"/>
<rect x="1041" y="510" width="3" height="1" fill="#000"/>
<rect x="1047" y="510" width="3" height="1" fill="#000"/>
<rect x="1053" y="510" width="3" height="1" fill="#000"/>
<rect x="1059" y="510" width="3" height="1" fill="#000"/>
<rect x="1065" y="510" width="3" height="1" fill="#000"/>
<rect x="1071" y="510" width="3" height="1" fill="#000"/>
<rect x="1077" y="510" width="3" height="1" fill="#000"/>
<rect x="1083" y="510" width="3" height="1" fill="#000"/>
<rect x="1089" y="510" width="3" height="1" fill="#000"/>
<rect x="1095" y="510" width="3" height="1" fill="#000"/>
<rect x="1101" y="510" width="3" height="1" fill="#000"/>
<rect x="1107" y="510" width="3" height="1" fill="#000"/>
<rect x="1113" y="510" width="3" height="1" fill="#000"/>
<rect x="1119" y="510" width="3" height="1" fill="#000"/>
<rect x="1125" y="510" width="3" height="1" fill="#000"/>
<rect x="1131" y="510" width="3" height="1" fill="#000"/>
<rect x="1137" y="510" width="3" height="1" fill="#000"/>
<rect x="1143" y="510" width="3" height="1" fill="#000"/>
<rect x="1149" y="510" width="3" height="1" fill="#000"/>
<rect x="1155" y="510" width="3" height="1" fill="#000"/>
<rect x="1161" y="510" width="3" height="1" fill="#000"/>
<rect x="3" y="529" width="3" height="1" fill="#000"/>
<rect x="9" y="529" width="3" height="1" fill="#000"/>
<rect x="15" y="529" width="3" height="1" fill="#000"/>
<rect x="21" y="529" width="3" height="1" fill="#000"/>
<rect x="27" y="529" width="3" height="1" fill="#000"/>
<rect x="33" y="529" width="3" height="1" fill="#000"/>
<rect x="39" y="529" width="3" height="1" fill="#000"/>
<rect x="45" y="529" width="3" height="1" fill="#000"/>
<rect x="51" y="529" width="3" height="1" fill="#000"/>
<rect x="57" y="529" width="3" height="1" fill="#000"/>
<rect x="63" y="529" width="3" height="1" fill="#000"/>
<rect x="69" y="529" width="3" height="1" fill="#000"/>
<rect x="75" y="529" width="3" height="1" fill="#000"/>
<rect x="81" y="529" width="3" height="1" fill="#000"/>
<rect x="87" y="529" width="3" height="1" fill="#000"/>
<rect x="93" y="529" width="3" height="1" fill="#000"/>
<rect x="99" y="529" width="3" height="1" fill="#000"/>
<rect x="105" y="529" width="3" height="1" fill="#000"/>
<rect x="111" y="529" width="3" height="1" fill="#000"/>
<rect x="117" y="529" width="3" height="1" fill="#000"/>
<rect x="123" y="529" width="3" height="1" fill="#000"/>
<rect x="129" y="529" width="3" height="1" fill="#000"/>
<rect x="135" y="529" width="3" height="1" fill="#000"/>
<rect x="141" y="529" width="3" height="1" fill="#000"/>
<rect x="147" y="529" width="3" height="1" fill="#000"/>
<rect x="153" y="529" width="3" height="1" fill="#000"/>
<rect x="159" y="529" width="3" height="1" fill="#000"/>
<rect x="165" y="529" width="3" height="1" fill="#000"/>
<rect x="171" y="529" width="3" height="1" fill="#000"/>
<rect x="177" y="529" width="3" height="1" fill="#000"/>
<rect x="183" y="529" width="3" height="1" fill="#000"/>
<rect x="189" y="529" width="3" height="1" fill="#000"/>
<rect x="195" y="529" width="3" height="1" fill="#000"/>
<rect x="201" y="529" width="3" height="1" fill="#000"/>
<rect x="207" y="529" width="3" height="1" fill="#000"/>
<rect x="213" y="529" width="3" height="1" fill="#000"/>
<rect x="219" y="529" width="3" height="1" fill="#000"/>
<rect x="225" y="529" width="3" height="1" fill="#000"/>
<rect x="231" y="529" width="3" height="1" fill="#000"/>
<rect x="237" y="529" width="3" height="1" fill="#000"/>
<rect x="243" y="529" width="3" height="1" fill="#000"/>
<rect x="249" y="529" width="3" height="1" fill="#000"/>
<rect x="255" y="529" width="3" height="1" fill="#000"/>
<rect x="261" y="529" width="3" height="1" fill="#000"/>
<rect x="267" y="529" width="3" height="1" fill="#000"/>
<rect x="273" y="529" width="3" height="1" fill="#000"/>
<rect x="279" y="529" width="3" height="1" fill="#000"/>
<rect x="285" y="529" width="3" height="1" fill="#000"/>
<rect x="291" y="529" width="3" height="1" fill="#000"/>
<rect x="297" y="529" width="3" height="1" fill="#000"/>
<rect x="303" y="529" width="3" height="1" fill="#000"/>
<rect x="309" y="529" width="3" height="1" fill="#000"/>
<rect x="315" y="529" width="3" height="1" fill="#000"/>
<rect x="321" y="529" width="3" height="1" fill="#000"/>
<rect x="327" y="529" width="3" height="1" fill="#000"/>
<rect x="333" y="529" width="3" height="1" fill="#000"/>
<rect x="339" y="529" width="3" height="1" fill="#000"/>
<rect x="345" y="529" width="3" height="1" fill="#000"/>
<rect x="351" y="529" width="3" height="1" fill="#000"/>
<rect x="357" y="529" width="3" height="1" fill="#000"/>
<rect x="363" y="529" width="3" height="1" fill="#000"/>
<rect x="369" y="529" width="3" height="1" fill="#000"/>
<rect x="375" y="529" width="3" height="1" fill="#000"/>
<rect x="381" y="529" width="3" height="1" fill="#000"/>
<rect x="387" y="529" width="3" height="1" fill="#000"/>
<rect x="393" y="529" width="3" height="1" fill="#000"/>
<rect x="399" y="529" width="3" height="1" fill="#000"/>
<rect x="405" y="529" width="3" height="1" fill="#000"/>
<rect x="411" y="529" width="3" height="1" fill="#000"/>
<rect x="417" y="529" width="3" height="1" fill="#000"/>
<rect x="423" y="529" width="3" height="1" fill="#000"/>
<rect x="429" y="529" width="3" height="1" fill="#000"/>
<rect x="435" y="529" width="3" height="1" fill="#000"/>
<rect x="441" y="529" width="3" height="1" fill="#000"/>
<rect x="447" y="529" width="3" height="1" fill="#000"/>
<rect x="453" y="529" width="3" height="1" fill="#000"/>
<rect x="459" y="529" width="3" height="1" fill="#000"/>
<rect x="465" y="529" width="3" height="1" fill="#000"/>
<rect x="471" y="529" width="3" height="1" fill="#000"/>
<rect x="477" y="529" width="3" height="1" fill="#000"/>
<rect x="483" y="529" width="3" height="1" fill="#000"/>
<rect x="489" y="529" width="3" height="1" fill="#000"/>
<rect x="495" y="529" width="3" height="1" fill="#000"/>
<rect x="501" y="529" width="3" height="1" fill="#000"/>
<rect x="507" y="529" width="3" height="1" fill="#000"/>
<rect x="513" y="529" width="3" height="1" fill="#000"/>
<rect x="519" y="529" width="3" height="1" fill="#000"/>
<rect x="525" y="529" width="3" height="1" fill="#000"/>
<rect x="531" y="529" width="3" height="1" fill="#000"/>
<rect x="537" y="529" width="3" height="1" fill="#000"/>
<rect x="543" y="529" width="3" height="1" fill="#000"/>
<rect x="549" y="529" width="3" height="1" fill="#000"/>
<rect x="555" y="529" width="3" height="1" fill="#000"/>
<rect x="561" y="529" width="3" height="1" fill="#000"/>
<rect x="567" y="529" width="3" height="1" fill="#000"/>
<rect x="573" y="529" width="3" height="1" fill="#000"/>
<rect x="579" y="529" width="3" height="1" fill="#000"/>
<rect x="585" y="529" width="3" height="1" fill="#000"/>
<rect x="591" y="529" width="3" height="1" fill="#000"/>
<rect x="597" y="529" width="3" height="1" fill="#000"/>
<rect x="603" y="529" width="3" height="1" fill="#000"/>
<rect x="609" y="529" width="3" height="1" fill="#000"/>
<rect x="615" y="529" width="3" height="1" fill="#000"/>
<rect x="621" y="529" width="3" height="1" fill="#000"/>
<rect x="627" y="529" width="3" height="1" fill="#000"/>
<rect x="633" y="529" width="3" height="1" fill="#000"/>
<rect x="639" y="529" width="3" height="1" fill="#000"/>
<rect x="645" y="529" width="3" height="1" fill="#000"/>
<rect x="651" y="529" width="3" height="1" fill="#000"/>
<rect x="657" y="529" width="3" height="1" fill="#000"/>
<rect x="663" y="529" width="3" height="1" fill="#000"/>
<rect x="669" y="529" width="3" height="1" fill="#000"/>
<rect x="675" y="529" width="3" height="1" fill="#000"/>
<rect x="681" y="529" width="3" height="1" fill="#000"/>
<rect x="687" y="529" width="3" height="1" fill="#000"/>
<rect x="693" y="529" width="3" height="1" fill="#000"/>
<rect x="699" y="529" width="3" height="1" fill="#000"/>
<rect x="705" y="529" width="3" height="1" fill="#000"/>
<rect x="711" y="529" width="3" height="1" fill="#000"/>
<rect x="717" y="529" width="3" height="1" fill="#000"/>
<rect x="723" y="529" width="3" height="1" fill="#000"/>
<rect x="729" y="529" width="3" height="1" fill="#000"/>
<rect x="735" y="529" width="3" height="1" fill="#000"/>
<rect x="741" y="529" width="3" height="1" fill="#000"/>
<rect x="747" y="529" width="3" height="1" fill="#000"/>
<rect x="753" y="529" width="3" height="1" fill="#000"/>
<rect x="759" y="529" width="3" height="1" fill="#000"/>
<rect x="765" y="529" width="3" height="1" fill="#000"/>
<rect x="771" y="529" width="3" height="1" fill="#000"/>
<rect x="777" y="529" width="3" height="1" fill="#000"/>
<rect x="783" y="529" width="3" height="1" fill="#000"/>
<rect x="789" y="529" width="3" height="1" fill="#000"/>
<rect x="795" y="529" width="3" height="1" fill="#000"/>
<rect x="801" y="529" width="3" height="1" fill="#000"/>
<rect x="807" y="529" width="3" height="1" fill="#000"/>
<rect x="813" y="529" width="3" height="1" fill="#000"/>
<rect x="819" y="529" width="3" height="1" fill="#000"/>
<rect x="825" y="529" width="3" height="1" fill="#000"/>
<rect x="831" y="529" width="3" height="1" fill="#000"/>
<rect x="837" y="529" width="3" height="1" fill="#000"/>
<rect x="843" y="529" width="3" height="1" fill="#000"/>
<rect x="849" y="529" width="3" height="1" fill="#000"/>
<rect x="855" y="529" width="3" height="1" fill="#000"/>
<rect x="861" y="529" width="3" height="1" fill="#000"/>
<rect x="867" y="529" width="3" height="1" fill="#000"/>
<rect x="873" y="529" width="3" height="1" fill="#000"/>
<rect x="879" y="529" width="3" height="1" fill="#000"/>
<rect x="885" y="529" width="3" height="1" fill="#000"/>
<rect x="891" y="529" width="3" height="1" fill="#000"/>
<rect x="897" y="529" width="3" height="1" fill="#000"/>
<rect x="903" y="529" width="3" height="1" fill="#000"/>
<rect x="909" y="529" width="3" height="1" fill="#000"/>
<rect x="915" y="529" width="3" height="1" fill="#000"/>
<rect x="921" y="529" width="3" height="1" fill="#000"/>
<rect x="927" y="529" width="3" height="1" fill="#000"/>
<rect x="933" y="529" width="3" height="1" fill="#000"/>
<rect x="939" y="529" width="3" height="1" fill="#000"/>
<rect x="945" y="529" width="3" height="1" fill="#000"/>
<rect x="951" y="529" width="3" height="1" fill="#000"/>
<rect x="957" y="529" width="3" height="1" fill="#000"/>
<rect x="963" y="529" width="3" height="1" fill="#000"/>
<rect x="969" y="529" width="3" height="1" fill="#000"/>
<rect x="975" y="529" width="3" height="1" fill="#000"/>
<rect x="981" y="529" width="3" height="1" fill="#000"/>
<rect x="987" y="529" width="3" height="1" fill="#000"/>
<rect x="993" y="529" width="3" height="1" fill="#000"/>
<rect x="999" y="529" width="3" height="1" fill="#000"/>
<rect x="1005" y="529" width="3" height="1" fill="#000"/>
<rect x="1011" y="529" width="3" height="1" fill="#000"/>
<rect x="1017" y="529" width="3" height="1" fill="#000"/>
<rect x="1023" y="529" width="3" height="1" fill="#000"/>
<rect x="1029" y="529" width="3" height="1" fill="#000"/>
<rect x="1035" y="529" width="3" height="1" fill="#000"/>
<rect x="1041" y="529" width="3" height="1" fill="#000"/>
<rect x="1047" y="529" width="3" height="1" fill="#000"/>
<rect x="1053" y="529" width="3" height="1" fill="#000"/>
<rect x="1059" y="529" width="3" height="1" fill="#000"/>
<rect x="1065" y="529" width="3" height="1" fill="#000"/>
<rect x="1071" y="529" width="3" height="1" fill="#000"/>
<rect x="1077" y="529" width="3" height="1" fill="#000"/>
<rect x="1083" y="529" width="3" height="1" fill="#000"/>
<rect x="1089" y="529" width="3" height="1" fill="#000"/>
<rect x="1095" y="529" width="3" height="1" fill="#000"/>
<rect x="1101" y="529" width="3" height="1" fill="#000"/>
<rect x="1107" y="529" width="3" height="1" fill="#000"/>
<rect x="1113" y="529" width="3" height="1" fill="#000"/>
<rect x="1119" y="529" width="3" height="1" fill="#000"/>
<rect x="1125" y="529" width="3" height="1" fill="#000"/>
<rect x="1131" y="529" width="3" height="1" fill="#000"/>
<rect x="1137" y="529" width="3" height="1" fill="#000"/>
<rect x="1143" y="529" width="3" height="1" fill="#000"/>
<rect x="1149" y="529" width="3" height="1" fill="#000"/>
<rect x="1155" y="529" width="3" height="1" fill="#000"/>
<rect x="1161" y="529" width="3" height="1" fill="#000"/>
<polyline points="2,519.5 6,519.4 10,521.4 14,522.0 18,521.9 22,521.6 26,522.7 30,522.6 34,524.7 38,524.7 42,526.1 46,525.6 50,519.9 54,521.5 58,520.4 62,517.6 66,519.9 70,519.5 74,514.4 78,517.1 82,522.4 86,523.8 90,522.1 94,521.6 98,522.0 102,519.8 106,520.8 110,519.9 114,523.0 118,522.3 122,521.1 126,518.7 130,515.4 134,512.4 138,512.5 142,512.4 146,515.4 150,519.1 154,520.5 158,519.5 162,516.8 166,516.9 170,518.4 174,517.2 178,517.7 182,516.8 186,517.2 190,517.5 194,517.7 198,517.0 202,520.3 206,521.6 210,520.6 214,520.8 218,524.6 222,519.7 226,522.4 230,517.0 234,516.8 238,516.5 242,522.3 246,521.6 250,520.4 254,521.8 258,521.7 262,520.2 266,517.0 270,514.8 274,516.9 278,515.5 282,513.0 286,513.1 290,511.5 294,510.5 298,510.4 302,514.7 306,517.6 310,517.0 314,516.3 318,516.7 322,518.7 326,519.6 330,518.6 334,518.4 338,516.7 342,518.8 346,523.9 350,523.8 354,521.8 358,521.6 362,521.2 366,518.7 370,516.4 374,515.4 378,516.2 382,515.8 386,518.3 390,517.3 394,516.4 398,511.1 402,511.2 406,511.7 410,510.5 414,507.6 418,510.6 422,508.8 426,507.8 430,508.9 434,507.9 438,506.7 442,505.1 446,504.5 450,505.3 454,504.5 458,503.8 462,503.5 466,508.8 470,505.7 474,505.2 478,505.0 482,504.3 486,503.7 490,505.1 494,503.5 498,503.9 502,504.5 506,504.6 510,511.4 514,515.4 518,522.0 522,520.5 526,520.8 530,524.2 534,525.8 538,525.1 542,526.1 546,526.3 550,526.1 554,526.0 558,525.1 562,522.9 566,525.2 570,522.3 574,522.4 578,517.8 582,516.8 586,514.7 590,514.2 594,511.6 598,511.2 602,509.1 606,508.5 610,511.7 614,522.6 618,521.4 622,521.6 626,522.3 630,522.7 634,524.1 638,524.3 642,525.2 646,525.5 650,525.9 654,525.6 658,526.6 662,525.9 666,523.0 670,523.4 674,522.0 678,518.0 682,517.2 686,515.5 690,514.1 694,513.9 698,511.9 702,512.7 706,513.4 710,512.4 714,516.0 718,517.7 722,516.5 726,521.4 730,520.0 734,522.4 738,523.6 742,523.7 746,523.1 750,524.4 754,525.9 758,527.5 762,528.4 766,527.5 770,528.6 774,522.7 778,521.0 782,524.2 786,520.1 790,520.0 794,523.0 798,523.4 802,527.4 806,527.6 810,527.6 814,527.5 818,524.7 822,522.5 826,521.5 830,518.7 834,517.5 838,517.8 842,515.3 846,515.3 850,514.3 854,516.2 858,515.0 862,513.9 866,515.0 870,511.9 874,510.2 878,509.6 882,510.2 886,509.2 890,512.9 894,510.7 898,515.8 902,519.6 906,522.7 910,523.0 914,525.4 918,521.8 922,521.2" fill="none" stroke="#1e90ff" stroke-width="2" shape-rendering="crispEdges"/>
<text x="6" y="508" font-size="9.6" fill="#000" stroke="#000" stroke-width="0.2" textLength="67.6" lengthAdjust="spacingAndGlyphs">RSI(14) 46.3889</text>
<rect x="1165" y="497" width="2" height="1" fill="#000"/>
<rect x="1165" y="542" width="2" height="1" fill="#000"/>
<text x="1168" y="506" font-size="9.5" fill="#000" stroke="#000" stroke-width="0.2" textLength="15" lengthAdjust="spacingAndGlyphs">100</text>
<text x="1168" y="514" font-size="9.5" fill="#000" stroke="#000" stroke-width="0.2" textLength="10" lengthAdjust="spacingAndGlyphs">70</text>
<text x="1168" y="533" font-size="9.5" fill="#000" stroke="#000" stroke-width="0.2" textLength="10" lengthAdjust="spacingAndGlyphs">30</text>
<text x="1168" y="540" font-size="9.5" fill="#000" stroke="#000" stroke-width="0.2" textLength="5" lengthAdjust="spacingAndGlyphs">0</text>
<rect x="2" y="544" width="1" height="3" fill="#000"/>
<text x="1" y="556" font-size="10.2" fill="#000" stroke="#000" stroke-width="0.12" transform="translate(1,0) scale(0.90,1) translate(-1,0)">20 Dec 2021</text>
<rect x="66" y="544" width="1" height="3" fill="#000"/>
<text x="65" y="556" font-size="10.2" fill="#000" stroke="#000" stroke-width="0.12" transform="translate(65,0) scale(0.90,1) translate(-65,0)">7 Jan 2022</text>
<rect x="130" y="544" width="1" height="3" fill="#000"/>
<text x="129" y="556" font-size="10.2" fill="#000" stroke="#000" stroke-width="0.12" transform="translate(129,0) scale(0.90,1) translate(-129,0)">26 Jan 2022</text>
<rect x="194" y="544" width="1" height="3" fill="#000"/>
<text x="193" y="556" font-size="10.2" fill="#000" stroke="#000" stroke-width="0.12" transform="translate(193,0) scale(0.90,1) translate(-193,0)">14 Feb 2022</text>
<rect x="258" y="544" width="1" height="3" fill="#000"/>
<text x="257" y="556" font-size="10.2" fill="#000" stroke="#000" stroke-width="0.12" transform="translate(257,0) scale(0.90,1) translate(-257,0)">4 Mar 2022</text>
<rect x="322" y="544" width="1" height="3" fill="#000"/>
<text x="321" y="556" font-size="10.2" fill="#000" stroke="#000" stroke-width="0.12" transform="translate(321,0) scale(0.90,1) translate(-321,0)">23 Mar 2022</text>
<rect x="386" y="544" width="1" height="3" fill="#000"/>
<text x="385" y="556" font-size="10.2" fill="#000" stroke="#000" stroke-width="0.12" transform="translate(385,0) scale(0.90,1) translate(-385,0)">11 Apr 2022</text>
<rect x="450" y="544" width="1" height="3" fill="#000"/>
<text x="449" y="556" font-size="10.2" fill="#000" stroke="#000" stroke-width="0.12" transform="translate(449,0) scale(0.90,1) translate(-449,0)">29 Apr 2022</text>
<rect x="514" y="544" width="1" height="3" fill="#000"/>
<text x="513" y="556" font-size="10.2" fill="#000" stroke="#000" stroke-width="0.12" transform="translate(513,0) scale(0.90,1) translate(-513,0)">18 May 2022</text>
<rect x="578" y="544" width="1" height="3" fill="#000"/>
<text x="577" y="556" font-size="10.2" fill="#000" stroke="#000" stroke-width="0.12" transform="translate(577,0) scale(0.90,1) translate(-577,0)">6 Jun 2022</text>
<rect x="642" y="544" width="1" height="3" fill="#000"/>
<text x="641" y="556" font-size="10.2" fill="#000" stroke="#000" stroke-width="0.12" transform="translate(641,0) scale(0.90,1) translate(-641,0)">24 Jun 2022</text>
<rect x="706" y="544" width="1" height="3" fill="#000"/>
<text x="705" y="556" font-size="10.2" fill="#000" stroke="#000" stroke-width="0.12" transform="translate(705,0) scale(0.90,1) translate(-705,0)">13 Jul 2022</text>
<rect x="770" y="544" width="1" height="3" fill="#000"/>
<text x="769" y="556" font-size="10.2" fill="#000" stroke="#000" stroke-width="0.12" transform="translate(769,0) scale(0.90,1) translate(-769,0)">1 Aug 2022</text>
<rect x="834" y="544" width="1" height="3" fill="#000"/>
<text x="833" y="556" font-size="10.2" fill="#000" stroke="#000" stroke-width="0.12" transform="translate(833,0) scale(0.90,1) translate(-833,0)">19 Aug 2022</text>
<rect x="898" y="544" width="1" height="3" fill="#000"/>
<text x="897" y="556" font-size="10.2" fill="#000" stroke="#000" stroke-width="0.12" transform="translate(897,0) scale(0.90,1) translate(-897,0)">7 Sep 2022</text>
<rect x="0" y="564" width="1207" height="1" fill="#e3e3e3"/>
<rect x="0" y="566" width="1207" height="1" fill="#000"/>
<rect x="0" y="567" width="1207" height="19" fill="#f0f0f0"/>
<rect x="0" y="586" width="1207" height="1" fill="#ffffff"/>
<rect x="0" y="587" width="1207" height="1" fill="#f0f0f0"/>
<rect x="319" y="566" width="108" height="19" fill="#000"/>
<rect x="320" y="566" width="106" height="18" fill="#fff"/>
<text x="13.799999999999999" y="580.8" font-size="13" fill="#6d6d6d" textLength="78.6" lengthAdjust="spacingAndGlyphs">USDX,Weekly</text>
<text x="113.5" y="580.8" font-size="13" fill="#6d6d6d" textLength="86.1" lengthAdjust="spacingAndGlyphs">EURUSD-,Daily</text>
<text x="220.2" y="580.8" font-size="13" fill="#6d6d6d" textLength="88.3" lengthAdjust="spacingAndGlyphs">AUDUSD-,Daily</text>
<text x="330.7" y="580.8" font-size="13" fill="#000" textLength="84.8" lengthAdjust="spacingAndGlyphs">USDCHF-,Daily</text>
<text x="437.8" y="580.8" font-size="13" fill="#6d6d6d" textLength="86.9" lengthAdjust="spacingAndGlyphs">USDCAD-,Daily</text>
<text x="546.5" y="580.8" font-size="13" fill="#6d6d6d" textLength="88.6" lengthAdjust="spacingAndGlyphs">USDCNH-,Daily</text>
<text x="656.6" y="580.8" font-size="13" fill="#6d6d6d" textLength="55.0" lengthAdjust="spacingAndGlyphs">HK50-,H1</text>
<text x="732.8000000000001" y="580.8" font-size="13" fill="#6d6d6d" textLength="71.2" lengthAdjust="spacingAndGlyphs">EURCHF-,H1</text>
<text x="826.5" y="580.8" font-size="13" fill="#6d6d6d" textLength="69.3" lengthAdjust="spacingAndGlyphs">USOil-,Daily</text>
<text x="917.5" y="580.8" font-size="13" fill="#6d6d6d" textLength="58.0" lengthAdjust="spacingAndGlyphs">UKOil-,H4</text>
<text x="997.1" y="580.8" font-size="13" fill="#6d6d6d" textLength="75.5" lengthAdjust="spacingAndGlyphs">XAUUSD-,H4</text>
<rect x="103" y="569" width="1" height="14" fill="#606060"/>
<rect x="211" y="569" width="1" height="14" fill="#606060"/>
<rect x="535" y="569" width="1" height="14" fill="#606060"/>
<rect x="647" y="569" width="1" height="14" fill="#606060"/>
<rect x="723" y="569" width="1" height="14" fill="#606060"/>
<rect x="815" y="569" width="1" height="14" fill="#606060"/>
<rect x="907" y="569" width="1" height="14" fill="#606060"/>
<rect x="987" y="569" width="1" height="14" fill="#606060"/>
<rect x="1083" y="569" width="1" height="14" fill="#606060"/>
<polygon points="1183,571.5 1183,578.5 1179.5,575" fill="#a0a0a0" shape-rendering="geometricPrecision"/>
<polygon points="1198.8,571.5 1198.8,578.5 1202.3,575" fill="#a0a0a0" shape-rendering="geometricPrecision"/>
</svg>
</body></html>
